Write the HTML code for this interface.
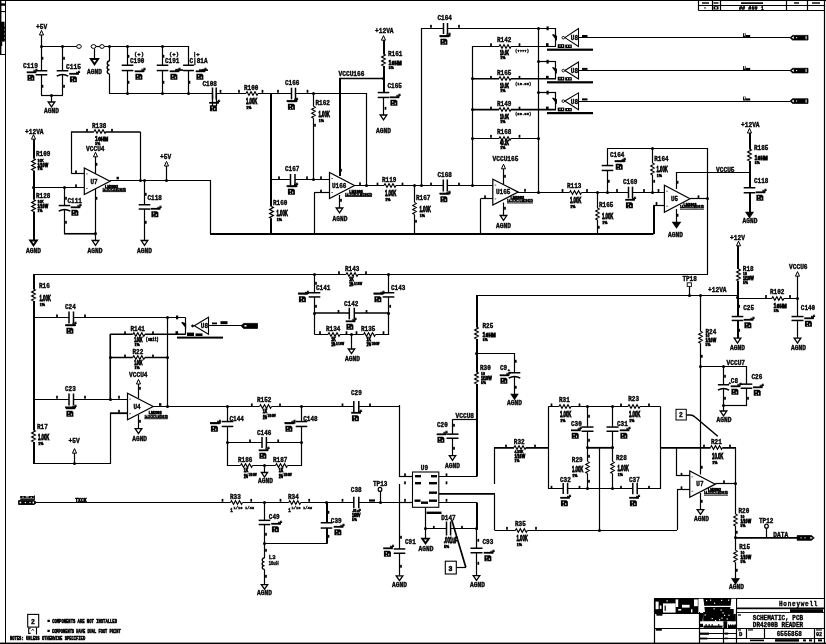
<!DOCTYPE html>
<html><head><meta charset="utf-8"><title>Schematic</title>
<style>html,body{margin:0;padding:0;background:#fff;}body{width:826px;height:644px;overflow:hidden;font-family:"Liberation Sans",sans-serif;}svg{display:block;}</style></head>
<body>
<svg width="826" height="644" viewBox="0 0 826 644" stroke="#000" fill="none" stroke-linecap="butt" stroke-linejoin="miter">
<rect x="0" y="0" width="826" height="644" fill="#fff" stroke="none"/>
<g id="wires"><rect x="0" y="0" width="826" height="1" fill="#000" stroke="none" stroke-width="1"/>
<path d="M5.5 0V643" stroke-width="1"/>
<path d="M824.5 0V643" stroke-width="1.2"/>
<rect x="0" y="642.6" width="826" height="1.4" fill="#000" stroke="none" stroke-width="1"/>
<path d="M0 54.5H5" stroke-width="1"/>
<path d="M698.5 5.5H824" stroke-width="1"/>
<path d="M698.5 10.5H824" stroke-width="1"/>
<path d="M698.5 0V10.5" stroke-width="1.2"/>
<path d="M712.5 0V10.5" stroke-width="1.2"/>
<path d="M720.5 0V10.5" stroke-width="1.2"/>
<path d="M786.5 0V10.5" stroke-width="1.2"/>
<path d="M807.5 0V10.5" stroke-width="1.2"/>
<path d="M41.5 35V46" stroke-width="1.2"/>
<path d="M41 46.5H77" stroke-width="1.2"/>
<path d="M41.5 46V95" stroke-width="1.2"/>
<path d="M62.5 46V95" stroke-width="1.2"/>
<path d="M41 95.5H63" stroke-width="1.2"/>
<path d="M51.5 95V102" stroke-width="1.2"/>
<path d="M96 46.5H100" stroke-width="1.2"/>
<path d="M94.5 48.5V59" stroke-width="1.2"/>
<path d="M104 46.5H188.5" stroke-width="1.2"/>
<path d="M109.5 46V93" stroke-width="1.2"/>
<path d="M109 93.5H366.5" stroke-width="1.2"/>
<path d="M127.5 46V93" stroke-width="1.2"/>
<path d="M162.5 46V93" stroke-width="1.2"/>
<path d="M188.5 46V93" stroke-width="1.2"/>
<path d="M271 93V234" stroke-width="2"/>
<path d="M313.5 93V179.5" stroke-width="1.2"/>
<path d="M340 78V176" stroke-width="2"/>
<path d="M339 78.5H384" stroke-width="1.6"/>
<path d="M366.5 93V185.5" stroke-width="1.2"/>
<path d="M384 40V78" stroke-width="2"/>
<path d="M384 78V93" stroke-width="2"/>
<path d="M383.5 93V115" stroke-width="1.2"/>
<path d="M421.5 28V185.5" stroke-width="1.2"/>
<path d="M421.75 28.5H556" stroke-width="1.2"/>
<path d="M472.5 46V185.5" stroke-width="1.2"/>
<path d="M538.5 28V192" stroke-width="1.2"/>
<path d="M472.5 46.5H556" stroke-width="1"/>
<path d="M555.5 28.2V46.2" stroke-width="1.2"/>
<path d="M578.5 37.5H790" stroke-width="1.2"/>
<path d="M472.5 78.8H556" stroke-width="1.6"/>
<path d="M538.25 61.5H556" stroke-width="1.2"/>
<path d="M555.5 61.6V78.8" stroke-width="1.2"/>
<path d="M578.5 70.5H790" stroke-width="1.2"/>
<path d="M472.5 109.6H556" stroke-width="1.6"/>
<path d="M538.25 92.5H556" stroke-width="1.2"/>
<path d="M555.5 92.5V109.6" stroke-width="1.2"/>
<path d="M578.5 101.5H790" stroke-width="1.2"/>
<path d="M472.5 138.5H538.25" stroke-width="1.2"/>
<path d="M750 133V212.5" stroke-width="2"/>
<path d="M676 172.5H749.5" stroke-width="1.2"/>
<path d="M34 139V240" stroke-width="2"/>
<path d="M34 187.5H84" stroke-width="1.2"/>
<path d="M71 132H140.5" stroke-width="1.6"/>
<path d="M71.5 132V173.5" stroke-width="1.2"/>
<path d="M71.25 173.5H84" stroke-width="1.2"/>
<path d="M140.5 132V181" stroke-width="1.2"/>
<path d="M95.5 156.8V174" stroke-width="1.2"/>
<path d="M110 180.5H211" stroke-width="1.2"/>
<path d="M95.5 189V240" stroke-width="1.2"/>
<path d="M64.5 187V234" stroke-width="1.2"/>
<path d="M64 233.75H95" stroke-width="1.6"/>
<path d="M144.5 180.75V240" stroke-width="1.2"/>
<path d="M166.5 166V181" stroke-width="1.2"/>
<path d="M210.5 180.75V234" stroke-width="1.2"/>
<path d="M210 234H653.5" stroke-width="2"/>
<path d="M271 179.5H329.5" stroke-width="1.2"/>
<path d="M354.5 185.5H492.8" stroke-width="1.2"/>
<path d="M314 192.5H329.5" stroke-width="1.2"/>
<path d="M314.5 192.5V234" stroke-width="1.2"/>
<path d="M339.5 195V208" stroke-width="1.2"/>
<path d="M414.5 185.5V234" stroke-width="1.2"/>
<path d="M503.5 168.8V184" stroke-width="1.2"/>
<path d="M517.5 192.5H664.5" stroke-width="1.2"/>
<path d="M480.5 198.5H492.8" stroke-width="1.2"/>
<path d="M480.5 198.75V234" stroke-width="1.2"/>
<path d="M503.5 202.5V215.5" stroke-width="1.2"/>
<path d="M597.5 192V234" stroke-width="1.2"/>
<path d="M607.5 148.4V192" stroke-width="1.2"/>
<path d="M607.2 148.5H708" stroke-width="1.2"/>
<path d="M652.5 148.4V192" stroke-width="1.2"/>
<path d="M690 198.5H708" stroke-width="1.2"/>
<path d="M707.5 148.4V274.5" stroke-width="1.2"/>
<path d="M653 205.5H664.4" stroke-width="1.2"/>
<path d="M654 205V234" stroke-width="2"/>
<path d="M676.5 172V189" stroke-width="1.2"/>
<path d="M676.5 209V222.5" stroke-width="1.2"/>
<path d="M34 274.5H708" stroke-width="1.2"/>
<path d="M34 274V464" stroke-width="2"/>
<path d="M34 317.5H185.5" stroke-width="1.2"/>
<path d="M167.5 317.5V406.5" stroke-width="1.2"/>
<path d="M185.5 317.5V334.5" stroke-width="1.2"/>
<path d="M110 334.25H185.5" stroke-width="1.6"/>
<path d="M208.5 325.5H242" stroke-width="1.2"/>
<path d="M110.25 334V399" stroke-width="1.6"/>
<path d="M110 357.5H167.5" stroke-width="1.6"/>
<path d="M138.5 384V398" stroke-width="1.2"/>
<path d="M34 399.5H127.5" stroke-width="1.2"/>
<path d="M153 406.5H227.5" stroke-width="1.2"/>
<path d="M110 413.2H127.5" stroke-width="1.8"/>
<path d="M110.5 413V464" stroke-width="1.2"/>
<path d="M138.5 415V428.7" stroke-width="1.2"/>
<path d="M34 463.5H111" stroke-width="1.2"/>
<path d="M74.5 453V463.5" stroke-width="1.2"/>
<path d="M314.5 274.25V334.5" stroke-width="1.2"/>
<path d="M388.5 274.25V334.5" stroke-width="1.2"/>
<path d="M314 313H389.5" stroke-width="1.6"/>
<path d="M314.5 334.5H389.25" stroke-width="1.2"/>
<path d="M351.5 334.25V349" stroke-width="1.2"/>
<path d="M227 406.5H400" stroke-width="1.2"/>
<path d="M227.5 406.5V466" stroke-width="1.2"/>
<path d="M301.5 406.5V466" stroke-width="1.2"/>
<path d="M227.5 442.5H301.25" stroke-width="1.2"/>
<path d="M227.5 465.5H301.75" stroke-width="1.2"/>
<path d="M264.5 465.75V472.5" stroke-width="1.2"/>
<path d="M399.5 405V476.5" stroke-width="1.2"/>
<path d="M36 502.5H412.5" stroke-width="1.2"/>
<path d="M264.5 502.4V584.5" stroke-width="1.2"/>
<path d="M264.5 543.5H327.5" stroke-width="1.2"/>
<path d="M327 502.4V543.5" stroke-width="2"/>
<path d="M380.5 491V502" stroke-width="1.2"/>
<path d="M399 476.5H412.5" stroke-width="1.2"/>
<path d="M399 502.5H412.5" stroke-width="1.2"/>
<path d="M438.8 476.5H477" stroke-width="1.2"/>
<path d="M477 295.5V476.5" stroke-width="2"/>
<path d="M476 295.5H738" stroke-width="1.2"/>
<path d="M438.8 493.9H495" stroke-width="1.6"/>
<path d="M438.8 502.5H477" stroke-width="1.2"/>
<path d="M477 502.4V529.5" stroke-width="2"/>
<path d="M476.5 529V575.5" stroke-width="1.2"/>
<path d="M425.5 507.3V538.6" stroke-width="1.2"/>
<path d="M425 528.5H476.75" stroke-width="1.2"/>
<path d="M451.6 519.5L465.8 567.3" stroke-width="1.7"/>
<path d="M456.3 567.5H466" stroke-width="1.2"/>
<path d="M399.5 484V575.6" stroke-width="1.2"/>
<path d="M477 353.5H514.75" stroke-width="1.2"/>
<path d="M514.5 353V394" stroke-width="1.2"/>
<path d="M452.5 419.5H477" stroke-width="1.2"/>
<path d="M452.5 419.25V455.5" stroke-width="1.2"/>
<path d="M494.5 447.5V484" stroke-width="1.2"/>
<path d="M494.5 494V530" stroke-width="1.2"/>
<path d="M494 447.8H548.5" stroke-width="1.8"/>
<path d="M494.5 530.5H677" stroke-width="1.2"/>
<path d="M548.5 406.5V489" stroke-width="1.2"/>
<path d="M548.25 406.5H660.5" stroke-width="1.2"/>
<path d="M548.25 488.5H660.5" stroke-width="1.2"/>
<path d="M587.5 406.5V488.75" stroke-width="1.2"/>
<path d="M587 447.8H613.5" stroke-width="1.8"/>
<path d="M660 447.8H736" stroke-width="1.8"/>
<path d="M599.5 447.8V530.5" stroke-width="1.2"/>
<path d="M612.5 406.5V488.75" stroke-width="1.2"/>
<path d="M660.5 406.5V489" stroke-width="1.2"/>
<path d="M676.5 447.5V476" stroke-width="1.2"/>
<path d="M676.5 475.5H689.75" stroke-width="1.2"/>
<path d="M715.3 483.5H735.5" stroke-width="1.2"/>
<path d="M735.5 447.5V578.6" stroke-width="1.2"/>
<path d="M677 489.5H689.75" stroke-width="1.2"/>
<path d="M677.5 489.25V530" stroke-width="1.2"/>
<path d="M700.5 295.5V474.5" stroke-width="1.2"/>
<path d="M700.5 493V509.5" stroke-width="1.2"/>
<path d="M735 537.9H798" stroke-width="1.8"/>
<path d="M766.5 528.2V537.9" stroke-width="1.2"/>
<path d="M738 245.8V298" stroke-width="2"/>
<path d="M738 298.5H798" stroke-width="1.2"/>
<path d="M738 298V338" stroke-width="2"/>
<path d="M797.5 276V338" stroke-width="1.2"/>
<path d="M689.5 286.4V295.5" stroke-width="1.2"/>
<path d="M700.25 366.5H747" stroke-width="1.2"/>
<path d="M723.5 366.25V411" stroke-width="1.2"/>
<path d="M746.5 366.25V405.8" stroke-width="1.2"/>
<path d="M723.5 405.5H747" stroke-width="1.2"/>
<path d="M654.7 598.5H824.5" stroke-width="1.2"/>
<path d="M654.5 598.2V643" stroke-width="1.2"/>
<path d="M699.5 598.2V643" stroke-width="1.2"/>
<path d="M736.5 598.2V643" stroke-width="1.2"/>
<path d="M654.7 628.5H824.5" stroke-width="1.2"/>
<path d="M654.7 613.5H699" stroke-width="1.2"/>
<path d="M699 633.5H736.4" stroke-width="1.2"/>
<path d="M699 638.5H736.4" stroke-width="1.2"/>
<path d="M723.5 628.3V643" stroke-width="1.2"/>
<path d="M736.4 612.5H824.5" stroke-width="0.9"/>
<path d="M746.5 628.3V638.5" stroke-width="1.2"/>
<path d="M764.5 628.3V638.5" stroke-width="1.2"/>
<path d="M814.5 628.3V643" stroke-width="1.2"/>
<path d="M736.4 638.5H824.5" stroke-width="1.2"/></g>
<g id="comps"><rect x="0" y="1" width="1.4" height="54" fill="#000" stroke="none" stroke-width="1"/>
<rect x="0" y="21.7" width="4.6" height="20" fill="#000" stroke="none" stroke-width="1"/>
<rect x="0" y="42" width="2.2" height="4" fill="#000" stroke="none" stroke-width="1"/>
<rect x="1" y="3.3" width="4" height="2.5" fill="#000" stroke="none" stroke-width="1"/>
<rect x="1" y="11" width="4" height="1.1" fill="#000" stroke="none" stroke-width="1"/>
<rect x="4" y="27" width="1" height="1.6" fill="#000" stroke="none" stroke-width="1"/>
<rect x="4" y="31" width="1" height="1.6" fill="#000" stroke="none" stroke-width="1"/>
<rect x="4" y="35" width="1" height="1.6" fill="#000" stroke="none" stroke-width="1"/>
<rect x="4" y="39" width="1" height="1.6" fill="#000" stroke="none" stroke-width="1"/>
<rect x="702" y="2.3" width="7" height="1.4" fill="#000" stroke="none" stroke-width="1"/>
<rect x="713.5" y="2.3" width="5" height="1.4" fill="#000" stroke="none" stroke-width="1"/>
<rect x="741" y="2.3" width="22" height="1.6" fill="#000" stroke="none" stroke-width="1"/>
<rect x="794" y="2.3" width="5" height="1.4" fill="#000" stroke="none" stroke-width="1"/>
<rect x="812" y="2.3" width="8" height="1.4" fill="#000" stroke="none" stroke-width="1"/>
<rect x="704" y="7.5" width="2" height="0.9" fill="#000" stroke="none" stroke-width="1"/>
<rect x="713.5" y="6.3" width="5" height="3.2" fill="#000" stroke="none" stroke-width="1"/>
<rect x="715" y="7.2" width="2" height="1.4" fill="#fff" stroke="none" stroke-width="1"/>
<path d="M39.45 35L43.55 35L41.5 30.4Z" stroke-width="1" fill="#fff"/>
<circle cx="41.5" cy="46.5" r="1.5" fill="#000" stroke="none"/>
<circle cx="62.5" cy="46.5" r="1.5" fill="#000" stroke="none"/>
<ellipse cx="79" cy="46.5" rx="2.3" ry="1.9" fill="#fff" stroke-width="1"/>
<circle cx="51.5" cy="95.5" r="1.5" fill="#000" stroke="none"/>
<path d="M48.2 102L54.8 102L51.5 106.8Z" stroke-width="1.3" fill="#fff"/>
<rect x="40" y="70.75" width="3" height="4" fill="#fff" stroke="none" stroke-width="1"/>
<path d="M35.7 70.75H47.3" stroke-width="1.5"/>
<path d="M35.7 74.75H47.3" stroke-width="1.5"/>
<rect x="61" y="70.75" width="3" height="3.5" fill="#fff" stroke="none" stroke-width="1"/>
<path d="M56.7 70.75H68.3" stroke-width="1.5"/>
<path d="M56.7 76.1Q62.5 72.7 68.3 76.1" stroke-width="1.5" fill="none"/>
<rect x="41.65" y="56.85" width="1.7" height="2.9" fill="#000" stroke="none" stroke-width="1"/>
<rect x="41.65" y="84.85" width="1.7" height="2.9" fill="#000" stroke="none" stroke-width="1"/>
<rect x="63.15" y="56.85" width="1.7" height="2.9" fill="#000" stroke="none" stroke-width="1"/>
<rect x="63.15" y="84.85" width="1.7" height="2.9" fill="#000" stroke="none" stroke-width="1"/>
<ellipse cx="93.5" cy="46.5" rx="2.4" ry="1.9" fill="#fff" stroke-width="1"/>
<ellipse cx="102" cy="46.5" rx="2.2" ry="1.9" fill="#fff" stroke-width="1"/>
<path d="M90.9 59L98.1 59L94.5 64.3Z" stroke-width="1.9" fill="#fff"/>
<rect x="108" y="61" width="3" height="13" fill="#fff" stroke="none" stroke-width="1"/>
<path d="M109.5 61A2.4 2.17 0 0 0 109.5 65.33A2.4 2.17 0 0 0 109.5 69.67A2.4 2.17 0 0 0 109.5 74" stroke-width="1.35" fill="none"/>
<circle cx="109.5" cy="46.5" r="1.5" fill="#000" stroke="none"/>
<circle cx="127.5" cy="46.5" r="1.5" fill="#000" stroke="none"/>
<circle cx="127.5" cy="93.5" r="1.5" fill="#000" stroke="none"/>
<rect x="126" y="65.25" width="3" height="5.3" fill="#fff" stroke="none" stroke-width="1"/>
<path d="M121.7 65.25H133.3" stroke-width="1.5"/>
<path d="M121.7 70.55H133.3" stroke-width="1.5"/>
<rect x="127.65" y="54.85" width="1.7" height="2.9" fill="#000" stroke="none" stroke-width="1"/>
<rect x="127.65" y="80.85" width="1.7" height="2.9" fill="#000" stroke="none" stroke-width="1"/>
<circle cx="162.5" cy="46.5" r="1.5" fill="#000" stroke="none"/>
<circle cx="162.5" cy="93.5" r="1.5" fill="#000" stroke="none"/>
<rect x="161" y="65.25" width="3" height="5.3" fill="#fff" stroke="none" stroke-width="1"/>
<path d="M156.7 65.25H168.3" stroke-width="1.5"/>
<path d="M156.7 70.55H168.3" stroke-width="1.5"/>
<rect x="162.65" y="54.85" width="1.7" height="2.9" fill="#000" stroke="none" stroke-width="1"/>
<rect x="162.65" y="80.85" width="1.7" height="2.9" fill="#000" stroke="none" stroke-width="1"/>
<circle cx="188.5" cy="93.5" r="1.5" fill="#000" stroke="none"/>
<rect x="187" y="65.25" width="3" height="5.3" fill="#fff" stroke="none" stroke-width="1"/>
<path d="M183.1 65.25H193.9" stroke-width="1.5"/>
<path d="M183.1 70.55H193.9" stroke-width="1.5"/>
<rect x="188.65" y="80.85" width="1.7" height="2.9" fill="#000" stroke="none" stroke-width="1"/>
<rect x="175" y="69.3" width="8" height="1.6" fill="#000" stroke="none" stroke-width="1"/>
<rect x="199" y="69.3" width="9" height="1.6" fill="#000" stroke="none" stroke-width="1"/>
<rect x="212.5" y="92" width="3.7" height="3" fill="#fff" stroke="none" stroke-width="1"/>
<path d="M212.5 87.5V99.5" stroke-width="1.5"/>
<path d="M216.2 87.5V99.5" stroke-width="1.5"/>
<path d="M212.5 93V106" stroke-width="1.2"/>
<path d="M216.5 93V106" stroke-width="1.2"/>
<rect x="219.65" y="89.85" width="1.7" height="2.9" fill="#000" stroke="none" stroke-width="1"/>
<rect x="238.15" y="89.85" width="1.7" height="2.9" fill="#000" stroke="none" stroke-width="1"/>
<rect x="246" y="92" width="12" height="3" fill="#fff" stroke="none" stroke-width="1"/>
<path d="M246 93.5L247 91.75L249 95.25L251 91.75L253 95.25L255 91.75L257 95.25L258 93.5" stroke-width="1.15" fill="none"/>
<rect x="261.65" y="89.85" width="1.7" height="2.9" fill="#000" stroke="none" stroke-width="1"/>
<rect x="277.15" y="89.85" width="1.7" height="2.9" fill="#000" stroke="none" stroke-width="1"/>
<rect x="291.5" y="92" width="4" height="3" fill="#fff" stroke="none" stroke-width="1"/>
<path d="M291.5 87.7V99.3" stroke-width="1.5"/>
<path d="M295.5 87.7V99.3" stroke-width="1.5"/>
<rect x="286.5" y="100.2" width="11" height="1.5" fill="#000" stroke="none" stroke-width="1"/>
<rect x="306.65" y="89.85" width="1.7" height="2.9" fill="#000" stroke="none" stroke-width="1"/>
<circle cx="313.5" cy="93.5" r="1.5" fill="#000" stroke="none"/>
<rect x="312" y="106.3" width="3" height="12" fill="#fff" stroke="none" stroke-width="1"/>
<path d="M313.5 106.3L315.25 107.3L311.75 109.3L315.25 111.3L311.75 113.3L315.25 115.3L311.75 117.3L313.5 118.3" stroke-width="1.15" fill="none"/>
<rect x="314.15" y="123.85" width="1.7" height="2.9" fill="#000" stroke="none" stroke-width="1"/>
<path d="M381.45 40.2L385.55 40.2L383.5 35.6Z" stroke-width="1" fill="#fff"/>
<rect x="382" y="54" width="3" height="12" fill="#fff" stroke="none" stroke-width="1"/>
<path d="M383.5 54L385.25 55L381.75 57L385.25 59L381.75 61L385.25 63L381.75 65L383.5 66" stroke-width="1.3" fill="none"/>
<circle cx="383.5" cy="78.5" r="1.5" fill="#000" stroke="none"/>
<rect x="382" y="92.55" width="3" height="4.9" fill="#fff" stroke="none" stroke-width="1"/>
<path d="M377.7 92.55H389.3" stroke-width="1.5"/>
<path d="M377.7 97.45H389.3" stroke-width="1.5"/>
<path d="M380.2 115L386.8 115L383.5 119.8Z" stroke-width="1.3" fill="#fff"/>
<rect x="384.65" y="106.85" width="1.7" height="2.9" fill="#000" stroke="none" stroke-width="1"/>
<rect x="443.5" y="27" width="4" height="3" fill="#fff" stroke="none" stroke-width="1"/>
<path d="M443.5 23V34" stroke-width="1.5"/>
<path d="M447.5 23V34" stroke-width="1.5"/>
<rect x="439.5" y="35.2" width="11" height="1.4" fill="#000" stroke="none" stroke-width="1"/>
<rect x="430.15" y="24.85" width="1.7" height="2.9" fill="#000" stroke="none" stroke-width="1"/>
<rect x="458.15" y="24.85" width="1.7" height="2.9" fill="#000" stroke="none" stroke-width="1"/>
<circle cx="538.5" cy="28.5" r="1.5" fill="#000" stroke="none"/>
<rect x="499" y="45" width="12" height="3" fill="#fff" stroke="none" stroke-width="1"/>
<path d="M499 46.5L500 44.75L502 48.25L504 44.75L506 48.25L508 44.75L510 48.25L511 46.5" stroke-width="1.15" fill="none"/>
<rect x="490.15" y="43.25" width="1.7" height="2.9" fill="#000" stroke="none" stroke-width="1"/>
<rect x="518.65" y="43.25" width="1.7" height="2.9" fill="#000" stroke="none" stroke-width="1"/>
<path d="M552.6 34.6L556.4 39.4L556.4 36.2Z" stroke-width="1.1" fill="#000"/>
<rect x="546.5" y="26.4" width="2.2" height="3.8" fill="#000" stroke="none" stroke-width="1"/>
<rect x="546" y="43.2" width="2.6" height="3.2" fill="#000" stroke="none" stroke-width="1"/>
<path d="M564.8 37.6L578.5 28.6L578.5 46.4Z" stroke-width="1.1" fill="#fff"/>
<circle cx="563.3" cy="37.7" r="1.3" fill="#fff" stroke-width="0.9"/>
<rect x="582" y="35" width="5.5" height="2" fill="#000" stroke="none" stroke-width="1"/>
<rect x="547" y="48.6" width="46" height="2.2" fill="#000" stroke="none" stroke-width="1"/>
<rect x="557.7" y="44.2" width="6.6" height="3.8" fill="#000" stroke="none" stroke-width="1"/>
<rect x="559.5" y="45.2" width="1" height="1.4" fill="#fff" stroke="none" stroke-width="1"/>
<rect x="562" y="45.2" width="1" height="1.4" fill="#fff" stroke="none" stroke-width="1"/>
<rect x="565.2" y="44.6" width="6.6" height="3.4" fill="#000" stroke="none" stroke-width="1"/>
<rect x="567" y="45.5" width="1" height="1.3" fill="#fff" stroke="none" stroke-width="1"/>
<rect x="569.5" y="45.5" width="1" height="1.3" fill="#fff" stroke="none" stroke-width="1"/>
<rect x="743" y="33.2" width="2.6" height="3.9" fill="#000" stroke="none" stroke-width="1"/>
<rect x="743.9" y="33.2" width="0.9" height="2.6" fill="#fff" stroke="none" stroke-width="1"/>
<rect x="745.6" y="35" width="4.6" height="2.1" fill="#000" stroke="none" stroke-width="1"/>
<path d="M790 37.7L792.5 35.4L808 35.4L808 40L792.5 40Z" stroke-width="0.8" fill="#000"/>
<path d="M791.6 37.7L793.8 36.3L793.8 39.1Z" stroke-width="0" fill="#fff"/>
<rect x="796" y="37.1" width="1.1" height="1.1" fill="#fff" stroke="none" stroke-width="1"/>
<rect x="805.6" y="36.1" width="1" height="3.2" fill="#fff" stroke="none" stroke-width="1"/>
<circle cx="472.5" cy="78.5" r="1.5" fill="#000" stroke="none"/>
<rect x="499" y="77" width="12" height="3" fill="#fff" stroke="none" stroke-width="1"/>
<path d="M499 78.5L500 76.75L502 80.25L504 76.75L506 80.25L508 76.75L510 80.25L511 78.5" stroke-width="1.15" fill="none"/>
<rect x="490.15" y="75.85" width="1.7" height="2.9" fill="#000" stroke="none" stroke-width="1"/>
<rect x="518.65" y="75.85" width="1.7" height="2.9" fill="#000" stroke="none" stroke-width="1"/>
<circle cx="538.5" cy="61.5" r="1.5" fill="#000" stroke="none"/>
<path d="M552.6 67.5L556.4 72.3L556.4 69.1Z" stroke-width="1.1" fill="#000"/>
<rect x="546.5" y="59.8" width="2.2" height="3.8" fill="#000" stroke="none" stroke-width="1"/>
<rect x="546" y="75.8" width="2.6" height="3.2" fill="#000" stroke="none" stroke-width="1"/>
<path d="M564.8 70.5L578.5 62L578.5 79Z" stroke-width="1.1" fill="#fff"/>
<circle cx="563.3" cy="70.6" r="1.3" fill="#fff" stroke-width="0.9"/>
<rect x="582" y="67.9" width="5.5" height="2" fill="#000" stroke="none" stroke-width="1"/>
<rect x="547" y="81.2" width="46" height="2.2" fill="#000" stroke="none" stroke-width="1"/>
<rect x="557.7" y="76.8" width="6.6" height="3.8" fill="#000" stroke="none" stroke-width="1"/>
<rect x="559.5" y="77.8" width="1" height="1.4" fill="#fff" stroke="none" stroke-width="1"/>
<rect x="562" y="77.8" width="1" height="1.4" fill="#fff" stroke="none" stroke-width="1"/>
<rect x="565.2" y="77.2" width="6.6" height="3.4" fill="#000" stroke="none" stroke-width="1"/>
<rect x="567" y="78.1" width="1" height="1.3" fill="#fff" stroke="none" stroke-width="1"/>
<rect x="569.5" y="78.1" width="1" height="1.3" fill="#fff" stroke="none" stroke-width="1"/>
<rect x="743" y="66.1" width="2.6" height="3.9" fill="#000" stroke="none" stroke-width="1"/>
<rect x="743.9" y="66.1" width="0.9" height="2.6" fill="#fff" stroke="none" stroke-width="1"/>
<rect x="745.6" y="67.9" width="4.6" height="2.1" fill="#000" stroke="none" stroke-width="1"/>
<path d="M790 70.6L792.5 68.3L808 68.3L808 72.9L792.5 72.9Z" stroke-width="0.8" fill="#000"/>
<path d="M791.6 70.6L793.8 69.2L793.8 72Z" stroke-width="0" fill="#fff"/>
<rect x="796" y="70" width="1.1" height="1.1" fill="#fff" stroke="none" stroke-width="1"/>
<rect x="805.6" y="69" width="1" height="3.2" fill="#fff" stroke="none" stroke-width="1"/>
<circle cx="472.5" cy="109.5" r="1.5" fill="#000" stroke="none"/>
<rect x="499" y="108" width="12" height="3" fill="#fff" stroke="none" stroke-width="1"/>
<path d="M499 109.5L500 107.75L502 111.25L504 107.75L506 111.25L508 107.75L510 111.25L511 109.5" stroke-width="1.15" fill="none"/>
<rect x="490.15" y="106.65" width="1.7" height="2.9" fill="#000" stroke="none" stroke-width="1"/>
<rect x="518.65" y="106.65" width="1.7" height="2.9" fill="#000" stroke="none" stroke-width="1"/>
<circle cx="538.5" cy="92.5" r="1.5" fill="#000" stroke="none"/>
<path d="M552.6 98L556.4 102.8L556.4 99.6Z" stroke-width="1.1" fill="#000"/>
<rect x="546.5" y="90.7" width="2.2" height="3.8" fill="#000" stroke="none" stroke-width="1"/>
<rect x="546" y="106.6" width="2.6" height="3.2" fill="#000" stroke="none" stroke-width="1"/>
<path d="M564.8 101L578.5 92.9L578.5 109.8Z" stroke-width="1.1" fill="#fff"/>
<circle cx="563.3" cy="101.1" r="1.3" fill="#fff" stroke-width="0.9"/>
<rect x="582" y="98.4" width="5.5" height="2" fill="#000" stroke="none" stroke-width="1"/>
<rect x="547" y="112" width="46" height="2.2" fill="#000" stroke="none" stroke-width="1"/>
<rect x="557.7" y="107.6" width="6.6" height="3.8" fill="#000" stroke="none" stroke-width="1"/>
<rect x="559.5" y="108.6" width="1" height="1.4" fill="#fff" stroke="none" stroke-width="1"/>
<rect x="562" y="108.6" width="1" height="1.4" fill="#fff" stroke="none" stroke-width="1"/>
<rect x="565.2" y="108" width="6.6" height="3.4" fill="#000" stroke="none" stroke-width="1"/>
<rect x="567" y="108.9" width="1" height="1.3" fill="#fff" stroke="none" stroke-width="1"/>
<rect x="569.5" y="108.9" width="1" height="1.3" fill="#fff" stroke="none" stroke-width="1"/>
<rect x="743" y="96.6" width="2.6" height="3.9" fill="#000" stroke="none" stroke-width="1"/>
<rect x="743.9" y="96.6" width="0.9" height="2.6" fill="#fff" stroke="none" stroke-width="1"/>
<rect x="745.6" y="98.4" width="4.6" height="2.1" fill="#000" stroke="none" stroke-width="1"/>
<path d="M790 101.1L792.5 98.8L808 98.8L808 103.4L792.5 103.4Z" stroke-width="0.8" fill="#000"/>
<path d="M791.6 101.1L793.8 99.7L793.8 102.5Z" stroke-width="0" fill="#fff"/>
<rect x="796" y="100.5" width="1.1" height="1.1" fill="#fff" stroke="none" stroke-width="1"/>
<rect x="805.6" y="99.5" width="1" height="3.2" fill="#fff" stroke="none" stroke-width="1"/>
<circle cx="472.5" cy="138.5" r="1.5" fill="#000" stroke="none"/>
<circle cx="538.5" cy="138.5" r="1.5" fill="#000" stroke="none"/>
<rect x="499" y="137" width="12" height="3" fill="#fff" stroke="none" stroke-width="1"/>
<path d="M499 138.5L500 136.75L502 140.25L504 136.75L506 140.25L508 136.75L510 140.25L511 138.5" stroke-width="1.15" fill="none"/>
<rect x="490.15" y="134.85" width="1.7" height="2.9" fill="#000" stroke="none" stroke-width="1"/>
<rect x="518.65" y="134.85" width="1.7" height="2.9" fill="#000" stroke="none" stroke-width="1"/>
<path d="M747.45 133L751.55 133L749.5 128.4Z" stroke-width="1" fill="#fff"/>
<rect x="748" y="149" width="3" height="12" fill="#fff" stroke="none" stroke-width="1"/>
<path d="M749.5 149L751.25 150L747.75 152L751.25 154L747.75 156L751.25 158L747.75 160L749.5 161" stroke-width="1.3" fill="none"/>
<rect x="748" y="187.75" width="3" height="5" fill="#fff" stroke="none" stroke-width="1"/>
<path d="M743.7 187.75H755.3" stroke-width="1.5"/>
<path d="M743.7 192.75H755.3" stroke-width="1.5"/>
<path d="M746.2 212.5L752.8 212.5L749.5 217.3Z" stroke-width="1.3" fill="#000"/>
<path d="M31.45 139.2L35.55 139.2L33.5 134.6Z" stroke-width="1" fill="#fff"/>
<rect x="32" y="158.5" width="3" height="12" fill="#fff" stroke="none" stroke-width="1"/>
<path d="M33.5 158.5L35.25 159.5L31.75 161.5L35.25 163.5L31.75 165.5L35.25 167.5L31.75 169.5L33.5 170.5" stroke-width="1.3" fill="none"/>
<rect x="32" y="199.5" width="3" height="12" fill="#fff" stroke="none" stroke-width="1"/>
<path d="M33.5 199.5L35.25 200.5L31.75 202.5L35.25 204.5L31.75 206.5L35.25 208.5L31.75 210.5L33.5 211.5" stroke-width="1.3" fill="none"/>
<circle cx="33.5" cy="187.5" r="1.5" fill="#000" stroke="none"/>
<path d="M30.2 240.5L36.8 240.5L33.5 245.3Z" stroke-width="1.9" fill="#fff"/>
<rect x="94" y="130" width="12" height="3" fill="#fff" stroke="none" stroke-width="1"/>
<path d="M94 131.5L95 129.75L97 133.25L99 129.75L101 133.25L103 129.75L105 133.25L106 131.5" stroke-width="1.15" fill="none"/>
<rect x="86.15" y="128.85" width="1.7" height="2.9" fill="#000" stroke="none" stroke-width="1"/>
<rect x="111.15" y="128.85" width="1.7" height="2.9" fill="#000" stroke="none" stroke-width="1"/>
<rect x="75.15" y="170.45" width="1.7" height="2.9" fill="#000" stroke="none" stroke-width="1"/>
<circle cx="140.5" cy="180.5" r="1.5" fill="#000" stroke="none"/>
<path d="M93.45 156.8L97.55 156.8L95.5 152.2Z" stroke-width="1" fill="#fff"/>
<path d="M84.3 168L84.3 194.5L110 181.25Z" stroke-width="1.2" fill="#fff"/>
<rect x="86.1" y="173.5" width="1.6" height="0.8" fill="#333" stroke="none" stroke-width="1"/>
<rect x="86.1" y="188" width="1.6" height="0.8" fill="#333" stroke="none" stroke-width="1"/>
<rect x="116.5" y="176.8" width="2.4" height="2.6" fill="#000" stroke="none" stroke-width="1"/>
<circle cx="95.5" cy="233.5" r="1.5" fill="#000" stroke="none"/>
<path d="M92.2 240.5L98.8 240.5L95.5 245.3Z" stroke-width="1.3" fill="#fff"/>
<rect x="95.65" y="162.85" width="1.7" height="2.9" fill="#000" stroke="none" stroke-width="1"/>
<rect x="95.65" y="196.85" width="1.7" height="2.9" fill="#000" stroke="none" stroke-width="1"/>
<circle cx="64.5" cy="187.5" r="1.5" fill="#000" stroke="none"/>
<rect x="63" y="205.55" width="3" height="3.7" fill="#fff" stroke="none" stroke-width="1"/>
<path d="M58.7 205.55H70.3" stroke-width="1.5"/>
<path d="M58.7 211.1Q64.5 207.7 70.3 211.1" stroke-width="1.5" fill="none"/>
<rect x="75.15" y="184.35" width="1.7" height="2.9" fill="#000" stroke="none" stroke-width="1"/>
<rect x="65.15" y="196.85" width="1.7" height="2.9" fill="#000" stroke="none" stroke-width="1"/>
<rect x="65.15" y="220.85" width="1.7" height="2.9" fill="#000" stroke="none" stroke-width="1"/>
<circle cx="144.5" cy="180.5" r="1.5" fill="#000" stroke="none"/>
<rect x="143" y="204.75" width="3" height="4.3" fill="#fff" stroke="none" stroke-width="1"/>
<path d="M138.7 204.75H150.3" stroke-width="1.5"/>
<path d="M138.7 209.05H150.3" stroke-width="1.5"/>
<path d="M141.2 240.5L147.8 240.5L144.5 245.3Z" stroke-width="1.3" fill="#fff"/>
<rect x="144.95" y="192.85" width="1.7" height="2.9" fill="#000" stroke="none" stroke-width="1"/>
<rect x="144.95" y="220.85" width="1.7" height="2.9" fill="#000" stroke="none" stroke-width="1"/>
<path d="M164.45 166L168.55 166L166.5 161.4Z" stroke-width="1" fill="#fff"/>
<circle cx="166.5" cy="180.5" r="1.5" fill="#000" stroke="none"/>
<rect x="270" y="206.5" width="3" height="12" fill="#fff" stroke="none" stroke-width="1"/>
<path d="M271.5 206.5L273.25 207.5L269.75 209.5L273.25 211.5L269.75 213.5L273.25 215.5L269.75 217.5L271.5 218.5" stroke-width="1.4" fill="none"/>
<rect x="290.5" y="178" width="4.5" height="3" fill="#fff" stroke="none" stroke-width="1"/>
<path d="M290.5 173.9V185.1" stroke-width="1.5"/>
<path d="M295 173.9V185.1" stroke-width="1.5"/>
<rect x="286.5" y="185.4" width="11" height="1.4" fill="#000" stroke="none" stroke-width="1"/>
<rect x="278.15" y="176.35" width="1.7" height="2.9" fill="#000" stroke="none" stroke-width="1"/>
<rect x="306.15" y="176.35" width="1.7" height="2.9" fill="#000" stroke="none" stroke-width="1"/>
<rect x="320.15" y="176.35" width="1.7" height="2.9" fill="#000" stroke="none" stroke-width="1"/>
<circle cx="313.5" cy="179.5" r="1.5" fill="#000" stroke="none"/>
<path d="M329.5 172.5L329.5 198.5L354.5 185.5Z" stroke-width="1.2" fill="#fff"/>
<rect x="331.3" y="178" width="1.6" height="0.8" fill="#333" stroke="none" stroke-width="1"/>
<rect x="331.3" y="192" width="1.6" height="0.8" fill="#333" stroke="none" stroke-width="1"/>
<circle cx="366.5" cy="185.5" r="1.5" fill="#000" stroke="none"/>
<rect x="320.15" y="189.65" width="1.7" height="2.9" fill="#000" stroke="none" stroke-width="1"/>
<path d="M336.2 208L342.8 208L339.5 212.8Z" stroke-width="1.3" fill="#fff"/>
<rect x="340.15" y="168.85" width="1.7" height="2.9" fill="#000" stroke="none" stroke-width="1"/>
<rect x="340.15" y="198.85" width="1.7" height="2.9" fill="#000" stroke="none" stroke-width="1"/>
<rect x="359.15" y="182.35" width="1.7" height="2.9" fill="#000" stroke="none" stroke-width="1"/>
<rect x="384" y="184" width="12" height="3" fill="#fff" stroke="none" stroke-width="1"/>
<path d="M384 185.5L385 183.75L387 187.25L389 183.75L391 187.25L393 183.75L395 187.25L396 185.5" stroke-width="1.15" fill="none"/>
<rect x="376.65" y="182.65" width="1.7" height="2.9" fill="#000" stroke="none" stroke-width="1"/>
<rect x="401.65" y="182.65" width="1.7" height="2.9" fill="#000" stroke="none" stroke-width="1"/>
<circle cx="414.5" cy="185.5" r="1.5" fill="#000" stroke="none"/>
<rect x="413" y="202.5" width="3" height="12" fill="#fff" stroke="none" stroke-width="1"/>
<path d="M414.5 202.5L416.25 203.5L412.75 205.5L416.25 207.5L412.75 209.5L416.25 211.5L412.75 213.5L414.5 214.5" stroke-width="1.15" fill="none"/>
<rect x="415.15" y="219.85" width="1.7" height="2.9" fill="#000" stroke="none" stroke-width="1"/>
<circle cx="421.5" cy="185.5" r="1.5" fill="#000" stroke="none"/>
<rect x="443.3" y="184" width="4" height="3" fill="#fff" stroke="none" stroke-width="1"/>
<path d="M443.3 179.5V191.5" stroke-width="1.5"/>
<path d="M447.3 179.5V191.5" stroke-width="1.5"/>
<rect x="439.5" y="192.8" width="11" height="1.4" fill="#000" stroke="none" stroke-width="1"/>
<rect x="430.15" y="182.65" width="1.7" height="2.9" fill="#000" stroke="none" stroke-width="1"/>
<rect x="458.15" y="182.65" width="1.7" height="2.9" fill="#000" stroke="none" stroke-width="1"/>
<circle cx="472.5" cy="185.5" r="1.5" fill="#000" stroke="none"/>
<path d="M501.45 168.8L505.55 168.8L503.5 164.2Z" stroke-width="1" fill="#fff"/>
<path d="M492.8 179.2L492.8 205L518.2 192.1Z" stroke-width="1.2" fill="#fff"/>
<rect x="494.6" y="184.7" width="1.6" height="0.8" fill="#333" stroke="none" stroke-width="1"/>
<rect x="494.6" y="198.5" width="1.6" height="0.8" fill="#333" stroke="none" stroke-width="1"/>
<circle cx="538.5" cy="192.5" r="1.5" fill="#000" stroke="none"/>
<rect x="484.15" y="195.35" width="1.7" height="2.9" fill="#000" stroke="none" stroke-width="1"/>
<rect x="524.15" y="188.85" width="1.7" height="2.9" fill="#000" stroke="none" stroke-width="1"/>
<path d="M500.2 215.5L506.8 215.5L503.5 220.3Z" stroke-width="1.3" fill="#fff"/>
<rect x="504.15" y="174.85" width="1.7" height="2.9" fill="#000" stroke="none" stroke-width="1"/>
<rect x="504.15" y="206.85" width="1.7" height="2.9" fill="#000" stroke="none" stroke-width="1"/>
<rect x="569.5" y="191" width="12" height="3" fill="#fff" stroke="none" stroke-width="1"/>
<path d="M569.5 192.5L570.5 190.75L572.5 194.25L574.5 190.75L576.5 194.25L578.5 190.75L580.5 194.25L581.5 192.5" stroke-width="1.15" fill="none"/>
<rect x="561.65" y="189.05" width="1.7" height="2.9" fill="#000" stroke="none" stroke-width="1"/>
<rect x="586.15" y="189.05" width="1.7" height="2.9" fill="#000" stroke="none" stroke-width="1"/>
<circle cx="597.5" cy="192.5" r="1.5" fill="#000" stroke="none"/>
<rect x="596" y="208" width="3" height="12" fill="#fff" stroke="none" stroke-width="1"/>
<path d="M597.5 208L599.25 209L595.75 211L599.25 213L595.75 215L599.25 217L595.75 219L597.5 220" stroke-width="1.15" fill="none"/>
<rect x="597.95" y="225.85" width="1.7" height="2.9" fill="#000" stroke="none" stroke-width="1"/>
<circle cx="607.5" cy="192.5" r="1.5" fill="#000" stroke="none"/>
<rect x="606" y="165.55" width="3" height="4.9" fill="#fff" stroke="none" stroke-width="1"/>
<path d="M601.7 165.55H613.3" stroke-width="1.5"/>
<path d="M601.7 170.45H613.3" stroke-width="1.5"/>
<rect x="614.5" y="160.4" width="11" height="1.4" fill="#000" stroke="none" stroke-width="1"/>
<rect x="607.95" y="179.85" width="1.7" height="2.9" fill="#000" stroke="none" stroke-width="1"/>
<rect x="628.5" y="191" width="4" height="3" fill="#fff" stroke="none" stroke-width="1"/>
<path d="M628.5 186.7V198.3" stroke-width="1.5"/>
<path d="M632.5 186.7V198.3" stroke-width="1.5"/>
<rect x="616.15" y="189.05" width="1.7" height="2.9" fill="#000" stroke="none" stroke-width="1"/>
<rect x="643.15" y="189.05" width="1.7" height="2.9" fill="#000" stroke="none" stroke-width="1"/>
<circle cx="652.5" cy="148.5" r="1.5" fill="#000" stroke="none"/>
<circle cx="652.5" cy="192.5" r="1.5" fill="#000" stroke="none"/>
<rect x="651" y="163" width="3" height="12" fill="#fff" stroke="none" stroke-width="1"/>
<path d="M652.5 163L654.25 164L650.75 166L654.25 168L650.75 170L654.25 172L650.75 174L652.5 175" stroke-width="1.15" fill="none"/>
<rect x="653.35" y="179.85" width="1.7" height="2.9" fill="#000" stroke="none" stroke-width="1"/>
<path d="M664.4 185.3L664.4 212.3L690 198.8Z" stroke-width="1.2" fill="#fff"/>
<rect x="666.2" y="190.8" width="1.6" height="0.8" fill="#333" stroke="none" stroke-width="1"/>
<rect x="666.2" y="205.8" width="1.6" height="0.8" fill="#333" stroke="none" stroke-width="1"/>
<circle cx="707.5" cy="198.5" r="1.5" fill="#000" stroke="none"/>
<rect x="655.65" y="202.05" width="1.7" height="2.9" fill="#000" stroke="none" stroke-width="1"/>
<rect x="657.65" y="189.05" width="1.7" height="2.9" fill="#000" stroke="none" stroke-width="1"/>
<rect x="697.65" y="195.35" width="1.7" height="2.9" fill="#000" stroke="none" stroke-width="1"/>
<path d="M672.9 222.5L680.1 222.5L676.5 227.7Z" stroke-width="1.3" fill="#000"/>
<rect x="676.75" y="180.85" width="1.7" height="2.9" fill="#000" stroke="none" stroke-width="1"/>
<rect x="676.75" y="213.85" width="1.7" height="2.9" fill="#000" stroke="none" stroke-width="1"/>
<rect x="32" y="289" width="3" height="12" fill="#fff" stroke="none" stroke-width="1"/>
<path d="M33.5 289L35.25 290L31.75 292L35.25 294L31.75 296L35.25 298L31.75 300L33.5 301" stroke-width="1.3" fill="none"/>
<rect x="69" y="316" width="4.5" height="3" fill="#fff" stroke="none" stroke-width="1"/>
<path d="M69 311.5V323.5" stroke-width="1.5"/>
<path d="M73.5 311.5V323.5" stroke-width="1.5"/>
<rect x="65" y="324.5" width="11" height="1.4" fill="#000" stroke="none" stroke-width="1"/>
<rect x="56.15" y="314.45" width="1.7" height="2.9" fill="#000" stroke="none" stroke-width="1"/>
<rect x="84.15" y="314.45" width="1.7" height="2.9" fill="#000" stroke="none" stroke-width="1"/>
<circle cx="167.5" cy="317.5" r="1.5" fill="#000" stroke="none"/>
<path d="M181.8 322.3L185.6 327.1L185.6 323.9Z" stroke-width="1.1" fill="#000"/>
<rect x="176" y="315.5" width="2.2" height="3.8" fill="#000" stroke="none" stroke-width="1"/>
<rect x="175.5" y="331.2" width="2.6" height="3.2" fill="#000" stroke="none" stroke-width="1"/>
<path d="M194.3 325.8L208.5 317.3L208.5 334.3Z" stroke-width="1.1" fill="#fff"/>
<circle cx="192.6" cy="325.9" r="1.0" fill="#000" stroke-width="0.9"/>
<rect x="177" y="336.6" width="46" height="2" fill="#000" stroke="none" stroke-width="1"/>
<rect x="187" y="332.6" width="7" height="3.4" fill="#000" stroke="none" stroke-width="1"/>
<rect x="195.5" y="333.4" width="7" height="2.6" fill="#000" stroke="none" stroke-width="1"/>
<rect x="212" y="322.5" width="5" height="1.8" fill="#000" stroke="none" stroke-width="1"/>
<rect x="220.5" y="321.2" width="7" height="3" fill="#000" stroke="none" stroke-width="1"/>
<path d="M241 325.8L243.5 323.4L257.5 323.4L257.5 328.4L243.5 328.4Z" stroke-width="0.8" fill="#000"/>
<rect x="244.5" y="325" width="2" height="1.6" fill="#fff" stroke="none" stroke-width="1"/>
<rect x="132.8" y="333" width="12" height="3" fill="#fff" stroke="none" stroke-width="1"/>
<path d="M132.8 334.5L133.8 332.75L135.8 336.25L137.8 332.75L139.8 336.25L141.8 332.75L143.8 336.25L144.8 334.5" stroke-width="1.15" fill="none"/>
<rect x="124.15" y="331.35" width="1.7" height="2.9" fill="#000" stroke="none" stroke-width="1"/>
<rect x="152.15" y="331.35" width="1.7" height="2.9" fill="#000" stroke="none" stroke-width="1"/>
<circle cx="110.5" cy="357.5" r="1.5" fill="#000" stroke="none"/>
<circle cx="167.5" cy="357.5" r="1.5" fill="#000" stroke="none"/>
<rect x="132.8" y="356" width="12" height="3" fill="#fff" stroke="none" stroke-width="1"/>
<path d="M132.8 357.5L133.8 355.75L135.8 359.25L137.8 355.75L139.8 359.25L141.8 355.75L143.8 359.25L144.8 357.5" stroke-width="1.15" fill="none"/>
<rect x="124.15" y="354.55" width="1.7" height="2.9" fill="#000" stroke="none" stroke-width="1"/>
<rect x="152.15" y="354.55" width="1.7" height="2.9" fill="#000" stroke="none" stroke-width="1"/>
<path d="M136.45 384L140.55 384L138.5 379.4Z" stroke-width="1" fill="#fff"/>
<rect x="69" y="398" width="4.5" height="3" fill="#fff" stroke="none" stroke-width="1"/>
<path d="M69 393.5V405.5" stroke-width="1.5"/>
<path d="M73.5 393.5V405.5" stroke-width="1.5"/>
<rect x="65" y="406.5" width="11" height="1.4" fill="#000" stroke="none" stroke-width="1"/>
<rect x="56.15" y="395.75" width="1.7" height="2.9" fill="#000" stroke="none" stroke-width="1"/>
<rect x="84.15" y="395.75" width="1.7" height="2.9" fill="#000" stroke="none" stroke-width="1"/>
<rect x="118.15" y="395.75" width="1.7" height="2.9" fill="#000" stroke="none" stroke-width="1"/>
<circle cx="110.5" cy="399.5" r="1.5" fill="#000" stroke="none"/>
<path d="M127.5 393.2L127.5 419.8L153.2 406.5Z" stroke-width="1.2" fill="#fff"/>
<rect x="129.3" y="398.7" width="1.6" height="0.8" fill="#333" stroke="none" stroke-width="1"/>
<rect x="129.3" y="413.3" width="1.6" height="0.8" fill="#333" stroke="none" stroke-width="1"/>
<circle cx="167.5" cy="406.5" r="1.5" fill="#000" stroke="none"/>
<rect x="159" y="403.2" width="2.4" height="2.6" fill="#000" stroke="none" stroke-width="1"/>
<rect x="118.15" y="409.85" width="1.7" height="2.9" fill="#000" stroke="none" stroke-width="1"/>
<path d="M135.2 428.7L141.8 428.7L138.5 433.5Z" stroke-width="1.3" fill="#fff"/>
<rect x="139.15" y="386.85" width="1.7" height="2.9" fill="#000" stroke="none" stroke-width="1"/>
<rect x="139.15" y="419.85" width="1.7" height="2.9" fill="#000" stroke="none" stroke-width="1"/>
<rect x="32" y="430" width="3" height="12" fill="#fff" stroke="none" stroke-width="1"/>
<path d="M33.5 430L35.25 431L31.75 433L35.25 435L31.75 437L35.25 439L31.75 441L33.5 442" stroke-width="1.3" fill="none"/>
<path d="M72.45 453.2L76.55 453.2L74.5 448.6Z" stroke-width="1" fill="#fff"/>
<circle cx="74.5" cy="463.5" r="1.5" fill="#000" stroke="none"/>
<circle cx="314.5" cy="274.5" r="1.5" fill="#000" stroke="none"/>
<circle cx="388.5" cy="274.5" r="1.5" fill="#000" stroke="none"/>
<rect x="346" y="273" width="12" height="3" fill="#fff" stroke="none" stroke-width="1"/>
<path d="M346 274.5L347 272.75L349 276.25L351 272.75L353 276.25L355 272.75L357 276.25L358 274.5" stroke-width="1.15" fill="none"/>
<rect x="338.15" y="271.25" width="1.7" height="2.9" fill="#000" stroke="none" stroke-width="1"/>
<rect x="365.15" y="271.25" width="1.7" height="2.9" fill="#000" stroke="none" stroke-width="1"/>
<rect x="313" y="292.75" width="3" height="4.2" fill="#fff" stroke="none" stroke-width="1"/>
<path d="M308.7 292.75H320.3" stroke-width="1.5"/>
<path d="M308.7 296.95H320.3" stroke-width="1.5"/>
<rect x="387" y="292.75" width="3" height="4.2" fill="#fff" stroke="none" stroke-width="1"/>
<path d="M382.7 292.75H394.3" stroke-width="1.5"/>
<path d="M382.7 296.95H394.3" stroke-width="1.5"/>
<rect x="298" y="292.6" width="11" height="1.4" fill="#000" stroke="none" stroke-width="1"/>
<rect x="373.5" y="292.6" width="11" height="1.4" fill="#000" stroke="none" stroke-width="1"/>
<circle cx="314.5" cy="313.5" r="1.5" fill="#000" stroke="none"/>
<circle cx="388.5" cy="313.5" r="1.5" fill="#000" stroke="none"/>
<rect x="349.3" y="312" width="5" height="3" fill="#fff" stroke="none" stroke-width="1"/>
<path d="M349.3 307.7V319.3" stroke-width="1.5"/>
<path d="M354.3 307.7V319.3" stroke-width="1.5"/>
<rect x="337.65" y="310.05" width="1.7" height="2.9" fill="#000" stroke="none" stroke-width="1"/>
<rect x="365.65" y="310.05" width="1.7" height="2.9" fill="#000" stroke="none" stroke-width="1"/>
<rect x="315.15" y="281.85" width="1.7" height="2.9" fill="#000" stroke="none" stroke-width="1"/>
<rect x="315.15" y="304.85" width="1.7" height="2.9" fill="#000" stroke="none" stroke-width="1"/>
<rect x="389.35" y="304.85" width="1.7" height="2.9" fill="#000" stroke="none" stroke-width="1"/>
<rect x="328" y="333" width="12" height="3" fill="#fff" stroke="none" stroke-width="1"/>
<path d="M328 334.5L329 332.75L331 336.25L333 332.75L335 336.25L337 332.75L339 336.25L340 334.5" stroke-width="1.15" fill="none"/>
<rect x="363.5" y="333" width="12" height="3" fill="#fff" stroke="none" stroke-width="1"/>
<path d="M363.5 334.5L364.5 332.75L366.5 336.25L368.5 332.75L370.5 336.25L372.5 332.75L374.5 336.25L375.5 334.5" stroke-width="1.15" fill="none"/>
<circle cx="351.5" cy="334.5" r="1.5" fill="#000" stroke="none"/>
<path d="M348.3 349L354.7 349L351.5 353.6Z" stroke-width="1.3" fill="#fff"/>
<rect x="319.15" y="331.25" width="1.7" height="2.9" fill="#000" stroke="none" stroke-width="1"/>
<rect x="345.65" y="331.25" width="1.7" height="2.9" fill="#000" stroke="none" stroke-width="1"/>
<rect x="355.65" y="331.25" width="1.7" height="2.9" fill="#000" stroke="none" stroke-width="1"/>
<rect x="382.65" y="331.25" width="1.7" height="2.9" fill="#000" stroke="none" stroke-width="1"/>
<circle cx="227.5" cy="406.5" r="1.5" fill="#000" stroke="none"/>
<circle cx="301.5" cy="406.5" r="1.5" fill="#000" stroke="none"/>
<rect x="259.5" y="405" width="12" height="3" fill="#fff" stroke="none" stroke-width="1"/>
<path d="M259.5 406.5L260.5 404.75L262.5 408.25L264.5 404.75L266.5 408.25L268.5 404.75L270.5 408.25L271.5 406.5" stroke-width="1.15" fill="none"/>
<rect x="250.95" y="403.45" width="1.7" height="2.9" fill="#000" stroke="none" stroke-width="1"/>
<rect x="279.15" y="403.45" width="1.7" height="2.9" fill="#000" stroke="none" stroke-width="1"/>
<rect x="226" y="421.55" width="3" height="4.9" fill="#fff" stroke="none" stroke-width="1"/>
<path d="M221.7 421.55H233.3" stroke-width="1.5"/>
<path d="M221.7 426.45H233.3" stroke-width="1.5"/>
<rect x="300" y="421.55" width="3" height="4.9" fill="#fff" stroke="none" stroke-width="1"/>
<path d="M295.7 421.55H307.3" stroke-width="1.5"/>
<path d="M295.7 426.45H307.3" stroke-width="1.5"/>
<rect x="210" y="422.2" width="11" height="1.4" fill="#000" stroke="none" stroke-width="1"/>
<rect x="284.5" y="422.2" width="11" height="1.4" fill="#000" stroke="none" stroke-width="1"/>
<circle cx="227.5" cy="442.5" r="1.5" fill="#000" stroke="none"/>
<circle cx="301.5" cy="442.5" r="1.5" fill="#000" stroke="none"/>
<rect x="262" y="441" width="4.4" height="3" fill="#fff" stroke="none" stroke-width="1"/>
<path d="M262 436.9V448.1" stroke-width="1.5"/>
<path d="M266.4 436.9V448.1" stroke-width="1.5"/>
<rect x="249.15" y="439.45" width="1.7" height="2.9" fill="#000" stroke="none" stroke-width="1"/>
<rect x="277.35" y="439.45" width="1.7" height="2.9" fill="#000" stroke="none" stroke-width="1"/>
<rect x="240.5" y="464" width="12" height="3" fill="#fff" stroke="none" stroke-width="1"/>
<path d="M240.5 465.5L241.5 463.75L243.5 467.25L245.5 463.75L247.5 467.25L249.5 463.75L251.5 467.25L252.5 465.5" stroke-width="1.15" fill="none"/>
<rect x="275.5" y="464" width="12" height="3" fill="#fff" stroke="none" stroke-width="1"/>
<path d="M275.5 465.5L276.5 463.75L278.5 467.25L280.5 463.75L282.5 467.25L284.5 463.75L286.5 467.25L287.5 465.5" stroke-width="1.15" fill="none"/>
<circle cx="264.5" cy="465.5" r="1.5" fill="#000" stroke="none"/>
<path d="M261.4 472.5L267.6 472.5L264.5 477Z" stroke-width="1.3" fill="#fff"/>
<rect x="353.8" y="405" width="5" height="3" fill="#fff" stroke="none" stroke-width="1"/>
<path d="M353.8 400.9V412.1" stroke-width="1.5"/>
<path d="M358.8 400.9V412.1" stroke-width="1.5"/>
<rect x="341.65" y="403.45" width="1.7" height="2.9" fill="#000" stroke="none" stroke-width="1"/>
<rect x="369.15" y="403.45" width="1.7" height="2.9" fill="#000" stroke="none" stroke-width="1"/>
<path d="M18.6 500.6L34.2 500.6L36.4 502.5L34.2 504.5L18.6 504.5Z" stroke-width="0.9" fill="#000"/>
<rect x="19.6" y="501.7" width="1.6" height="1.6" fill="#fff" stroke="none" stroke-width="1"/>
<rect x="24.8" y="501.9" width="1.2" height="1.2" fill="#fff" stroke="none" stroke-width="1"/>
<rect x="29.4" y="501.9" width="1.2" height="1.2" fill="#fff" stroke="none" stroke-width="1"/>
<rect x="32.6" y="501.6" width="1.4" height="1.8" fill="#fff" stroke="none" stroke-width="1"/>
<rect x="20.2" y="496" width="13.6" height="2.6" fill="#000" stroke="none" stroke-width="1"/>
<rect x="22.4" y="496.6" width="1.2" height="1.2" fill="#fff" stroke="none" stroke-width="1"/>
<rect x="25.6" y="496.4" width="3.2" height="1" fill="#fff" stroke="none" stroke-width="1"/>
<rect x="30.6" y="496.8" width="1.2" height="1" fill="#fff" stroke="none" stroke-width="1"/>
<path d="M20.2 499.5H34.8" stroke-width="0.9"/>
<path d="M34.5 495.4V499.6" stroke-width="0.9"/>
<rect x="230.5" y="501" width="12" height="3" fill="#fff" stroke="none" stroke-width="1"/>
<path d="M230.5 502.5L231.5 500.75L233.5 504.25L235.5 500.75L237.5 504.25L239.5 500.75L241.5 504.25L242.5 502.5" stroke-width="1.15" fill="none"/>
<rect x="288.75" y="501" width="12" height="3" fill="#fff" stroke="none" stroke-width="1"/>
<path d="M288.75 502.5L289.75 500.75L291.75 504.25L293.75 500.75L295.75 504.25L297.75 500.75L299.75 504.25L300.75 502.5" stroke-width="1.15" fill="none"/>
<rect x="221.65" y="498.85" width="1.7" height="2.9" fill="#000" stroke="none" stroke-width="1"/>
<rect x="250.35" y="498.85" width="1.7" height="2.9" fill="#000" stroke="none" stroke-width="1"/>
<rect x="279.65" y="498.85" width="1.7" height="2.9" fill="#000" stroke="none" stroke-width="1"/>
<rect x="308.35" y="498.85" width="1.7" height="2.9" fill="#000" stroke="none" stroke-width="1"/>
<circle cx="264.5" cy="502.5" r="1.5" fill="#000" stroke="none"/>
<rect x="263" y="520.35" width="3" height="4.2" fill="#fff" stroke="none" stroke-width="1"/>
<path d="M258.7 520.35H270.3" stroke-width="1.5"/>
<path d="M258.7 524.55H270.3" stroke-width="1.5"/>
<circle cx="264.5" cy="543.5" r="1.5" fill="#000" stroke="none"/>
<circle cx="326.5" cy="502.5" r="1.5" fill="#000" stroke="none"/>
<rect x="325" y="522.75" width="3" height="5.3" fill="#fff" stroke="none" stroke-width="1"/>
<path d="M320.7 522.75H332.3" stroke-width="1.5"/>
<path d="M320.7 528.05H332.3" stroke-width="1.5"/>
<rect x="263" y="558" width="3" height="11.5" fill="#fff" stroke="none" stroke-width="1"/>
<path d="M264.5 558A2.4 1.92 0 0 0 264.5 561.83A2.4 1.92 0 0 0 264.5 565.67A2.4 1.92 0 0 0 264.5 569.5" stroke-width="1.35" fill="none"/>
<path d="M261.3 584.6L267.7 584.6L264.5 589.2Z" stroke-width="1.3" fill="#fff"/>
<rect x="265.15" y="532.85" width="1.7" height="2.9" fill="#000" stroke="none" stroke-width="1"/>
<rect x="265.15" y="548.85" width="1.7" height="2.9" fill="#000" stroke="none" stroke-width="1"/>
<rect x="265.15" y="574.85" width="1.7" height="2.9" fill="#000" stroke="none" stroke-width="1"/>
<rect x="327.65" y="510.85" width="1.7" height="2.9" fill="#000" stroke="none" stroke-width="1"/>
<rect x="327.65" y="534.85" width="1.7" height="2.9" fill="#000" stroke="none" stroke-width="1"/>
<rect x="353.8" y="501" width="5" height="3" fill="#fff" stroke="none" stroke-width="1"/>
<path d="M353.8 496.7V508.3" stroke-width="1.5"/>
<path d="M358.8 496.7V508.3" stroke-width="1.5"/>
<rect x="341.65" y="498.85" width="1.7" height="2.9" fill="#000" stroke="none" stroke-width="1"/>
<rect x="369" y="499.4" width="6" height="2.2" fill="#000" stroke="none" stroke-width="1"/>
<ellipse cx="380" cy="489.4" rx="1.8" ry="2.0" fill="#fff" stroke-width="1.2"/>
<circle cx="380.5" cy="502.5" r="1.5" fill="#000" stroke="none"/>
<rect x="412.5" y="472" width="26.3" height="35.3" fill="#fff" stroke="#000" stroke-width="1.1"/>
<rect x="415" y="475" width="6" height="2.4" fill="#000" stroke="none" stroke-width="1"/>
<rect x="431" y="475" width="6" height="2.4" fill="#000" stroke="none" stroke-width="1"/>
<rect x="415" y="482" width="6" height="2.4" fill="#000" stroke="none" stroke-width="1"/>
<rect x="429" y="482" width="8" height="2.4" fill="#000" stroke="none" stroke-width="1"/>
<rect x="429" y="491.5" width="8" height="2.4" fill="#000" stroke="none" stroke-width="1"/>
<rect x="414.5" y="499.5" width="6" height="2.4" fill="#000" stroke="none" stroke-width="1"/>
<rect x="429" y="499.5" width="8" height="2.4" fill="#000" stroke="none" stroke-width="1"/>
<rect x="421" y="501.5" width="7" height="2.4" fill="#000" stroke="none" stroke-width="1"/>
<rect x="404.15" y="473.35" width="1.7" height="2.9" fill="#000" stroke="none" stroke-width="1"/>
<rect x="404.15" y="481.35" width="1.7" height="2.9" fill="#000" stroke="none" stroke-width="1"/>
<rect x="404.15" y="498.85" width="1.7" height="2.9" fill="#000" stroke="none" stroke-width="1"/>
<rect x="445.65" y="473.35" width="1.7" height="2.9" fill="#000" stroke="none" stroke-width="1"/>
<rect x="445.65" y="481.35" width="1.7" height="2.9" fill="#000" stroke="none" stroke-width="1"/>
<rect x="445.65" y="498.85" width="1.7" height="2.9" fill="#000" stroke="none" stroke-width="1"/>
<rect x="426.5" y="511.6" width="15" height="2.4" fill="#000" stroke="none" stroke-width="1"/>
<circle cx="425.5" cy="528.5" r="1.5" fill="#000" stroke="none"/>
<circle cx="476.5" cy="528.5" r="1.5" fill="#000" stroke="none"/>
<path d="M422.2 538.6L428.8 538.6L425.5 543.4Z" stroke-width="1.9" fill="#fff"/>
<rect x="446.5" y="527" width="4.1" height="3" fill="#fff" stroke="none" stroke-width="1"/>
<path d="M446.5 521.5V535.5" stroke-width="1.5"/>
<path d="M450.6 521.5V535.5" stroke-width="1.5"/>
<rect x="432.95" y="525.85" width="1.7" height="2.9" fill="#000" stroke="none" stroke-width="1"/>
<rect x="461.15" y="525.85" width="1.7" height="2.9" fill="#000" stroke="none" stroke-width="1"/>
<rect x="445.3" y="561.2" width="11" height="12.8" fill="#fff" stroke="#000" stroke-width="1.1"/>
<rect x="475" y="548.25" width="3" height="4.5" fill="#fff" stroke="none" stroke-width="1"/>
<path d="M470.5 548.25H482.5" stroke-width="1.5"/>
<path d="M470.5 552.75H482.5" stroke-width="1.5"/>
<path d="M473.2 575.6L479.8 575.6L476.5 580.4Z" stroke-width="1.3" fill="#fff"/>
<rect x="477.45" y="538.85" width="1.7" height="2.9" fill="#000" stroke="none" stroke-width="1"/>
<rect x="477.45" y="561.85" width="1.7" height="2.9" fill="#000" stroke="none" stroke-width="1"/>
<rect x="398" y="548.95" width="3" height="4.3" fill="#fff" stroke="none" stroke-width="1"/>
<path d="M393.7 548.95H405.3" stroke-width="1.5"/>
<path d="M393.7 553.25H405.3" stroke-width="1.5"/>
<path d="M396.2 575.8L402.8 575.8L399.5 580.6Z" stroke-width="1.3" fill="#fff"/>
<rect x="400.15" y="535.85" width="1.7" height="2.9" fill="#000" stroke="none" stroke-width="1"/>
<rect x="400.15" y="564.85" width="1.7" height="2.9" fill="#000" stroke="none" stroke-width="1"/>
<rect x="475" y="327" width="3" height="12" fill="#fff" stroke="none" stroke-width="1"/>
<path d="M476.5 327L478.25 328L474.75 330L478.25 332L474.75 334L478.25 336L474.75 338L476.5 339" stroke-width="1.3" fill="none"/>
<circle cx="476.5" cy="353.5" r="1.5" fill="#000" stroke="none"/>
<rect x="475" y="372" width="3" height="12" fill="#fff" stroke="none" stroke-width="1"/>
<path d="M476.5 372L478.25 373L474.75 375L478.25 377L474.75 379L478.25 381L474.75 383L476.5 384" stroke-width="1.3" fill="none"/>
<rect x="513" y="372.75" width="3" height="3.5" fill="#fff" stroke="none" stroke-width="1"/>
<path d="M508.7 372.75H520.3" stroke-width="1.5"/>
<path d="M508.7 378.1Q514.5 374.7 520.3 378.1" stroke-width="1.5" fill="none"/>
<path d="M511.4 394.3L517.6 394.3L514.5 399.1Z" stroke-width="1.3" fill="#000"/>
<rect x="514.95" y="359.85" width="1.7" height="2.9" fill="#000" stroke="none" stroke-width="1"/>
<rect x="514.95" y="385.85" width="1.7" height="2.9" fill="#000" stroke="none" stroke-width="1"/>
<rect x="451" y="434.15" width="3" height="4.1" fill="#fff" stroke="none" stroke-width="1"/>
<path d="M446.5 434.15H458.5" stroke-width="1.5"/>
<path d="M446.5 438.25H458.5" stroke-width="1.5"/>
<path d="M449.3 455.6L455.7 455.6L452.5 460.3Z" stroke-width="1.3" fill="#fff"/>
<rect x="453.15" y="423.85" width="1.7" height="2.9" fill="#000" stroke="none" stroke-width="1"/>
<rect x="453.15" y="446.85" width="1.7" height="2.9" fill="#000" stroke="none" stroke-width="1"/>
<rect x="514" y="446" width="12" height="3" fill="#fff" stroke="none" stroke-width="1"/>
<path d="M514 447.5L515 445.75L517 449.25L519 445.75L521 449.25L523 445.75L525 449.25L526 447.5" stroke-width="1.15" fill="none"/>
<rect x="505.15" y="444.65" width="1.7" height="2.9" fill="#000" stroke="none" stroke-width="1"/>
<rect x="534.15" y="444.65" width="1.7" height="2.9" fill="#000" stroke="none" stroke-width="1"/>
<rect x="515.3" y="529" width="12" height="3" fill="#fff" stroke="none" stroke-width="1"/>
<path d="M515.3 530.5L516.3 528.75L518.3 532.25L520.3 528.75L522.3 532.25L524.3 528.75L526.3 532.25L527.3 530.5" stroke-width="1.15" fill="none"/>
<rect x="506.15" y="526.85" width="1.7" height="2.9" fill="#000" stroke="none" stroke-width="1"/>
<rect x="535.15" y="526.85" width="1.7" height="2.9" fill="#000" stroke="none" stroke-width="1"/>
<rect x="559" y="405" width="12" height="3" fill="#fff" stroke="none" stroke-width="1"/>
<path d="M559 406.5L560 404.75L562 408.25L564 404.75L566 408.25L568 404.75L570 408.25L571 406.5" stroke-width="1.15" fill="none"/>
<rect x="550.65" y="403.45" width="1.7" height="2.9" fill="#000" stroke="none" stroke-width="1"/>
<rect x="578.65" y="403.45" width="1.7" height="2.9" fill="#000" stroke="none" stroke-width="1"/>
<circle cx="587.5" cy="406.5" r="1.5" fill="#000" stroke="none"/>
<circle cx="587.5" cy="447.5" r="1.5" fill="#000" stroke="none"/>
<circle cx="587.5" cy="488.5" r="1.5" fill="#000" stroke="none"/>
<rect x="586" y="427.05" width="3" height="4.2" fill="#fff" stroke="none" stroke-width="1"/>
<path d="M581.5 427.05H593.5" stroke-width="1.5"/>
<path d="M581.5 431.25H593.5" stroke-width="1.5"/>
<rect x="586" y="461.5" width="3" height="12" fill="#fff" stroke="none" stroke-width="1"/>
<path d="M587.5 461.5L589.25 462.5L585.75 464.5L589.25 466.5L585.75 468.5L589.25 470.5L585.75 472.5L587.5 473.5" stroke-width="1.15" fill="none"/>
<rect x="563.2" y="487" width="4.4" height="3" fill="#fff" stroke="none" stroke-width="1"/>
<path d="M563.2 482.9V494.1" stroke-width="1.5"/>
<path d="M567.6 482.9V494.1" stroke-width="1.5"/>
<rect x="550.65" y="485.85" width="1.7" height="2.9" fill="#000" stroke="none" stroke-width="1"/>
<rect x="578.65" y="485.85" width="1.7" height="2.9" fill="#000" stroke="none" stroke-width="1"/>
<rect x="588.15" y="414.85" width="1.7" height="2.9" fill="#000" stroke="none" stroke-width="1"/>
<rect x="588.15" y="438.85" width="1.7" height="2.9" fill="#000" stroke="none" stroke-width="1"/>
<rect x="588.15" y="454.85" width="1.7" height="2.9" fill="#000" stroke="none" stroke-width="1"/>
<rect x="588.15" y="479.85" width="1.7" height="2.9" fill="#000" stroke="none" stroke-width="1"/>
<circle cx="599.5" cy="530.5" r="1.5" fill="#000" stroke="none"/>
<circle cx="612.5" cy="406.5" r="1.5" fill="#000" stroke="none"/>
<circle cx="612.5" cy="447.5" r="1.5" fill="#000" stroke="none"/>
<circle cx="612.5" cy="488.5" r="1.5" fill="#000" stroke="none"/>
<rect x="611" y="427.05" width="3" height="4.2" fill="#fff" stroke="none" stroke-width="1"/>
<path d="M606.5 427.05H618.5" stroke-width="1.5"/>
<path d="M606.5 431.25H618.5" stroke-width="1.5"/>
<rect x="611" y="461.5" width="3" height="12" fill="#fff" stroke="none" stroke-width="1"/>
<path d="M612.5 461.5L614.25 462.5L610.75 464.5L614.25 466.5L610.75 468.5L614.25 470.5L610.75 472.5L612.5 473.5" stroke-width="1.15" fill="none"/>
<rect x="628" y="405" width="12" height="3" fill="#fff" stroke="none" stroke-width="1"/>
<path d="M628 406.5L629 404.75L631 408.25L633 404.75L635 408.25L637 404.75L639 408.25L640 406.5" stroke-width="1.15" fill="none"/>
<rect x="620.15" y="403.45" width="1.7" height="2.9" fill="#000" stroke="none" stroke-width="1"/>
<rect x="648.15" y="403.45" width="1.7" height="2.9" fill="#000" stroke="none" stroke-width="1"/>
<rect x="632.8" y="487" width="4.4" height="3" fill="#fff" stroke="none" stroke-width="1"/>
<path d="M632.8 482.7V494.3" stroke-width="1.5"/>
<path d="M637.2 482.7V494.3" stroke-width="1.5"/>
<rect x="620.15" y="485.85" width="1.7" height="2.9" fill="#000" stroke="none" stroke-width="1"/>
<rect x="648.15" y="485.85" width="1.7" height="2.9" fill="#000" stroke="none" stroke-width="1"/>
<rect x="710.5" y="446" width="12" height="3" fill="#fff" stroke="none" stroke-width="1"/>
<path d="M710.5 447.5L711.5 445.75L713.5 449.25L715.5 445.75L717.5 449.25L719.5 445.75L721.5 449.25L722.5 447.5" stroke-width="1.15" fill="none"/>
<rect x="703.15" y="444.65" width="1.7" height="2.9" fill="#000" stroke="none" stroke-width="1"/>
<rect x="729.15" y="444.65" width="1.7" height="2.9" fill="#000" stroke="none" stroke-width="1"/>
<path d="M689.75 471L689.75 497.3L715.3 484.15Z" stroke-width="1.2" fill="#fff"/>
<rect x="691.55" y="476.5" width="1.6" height="0.8" fill="#333" stroke="none" stroke-width="1"/>
<rect x="691.55" y="490.8" width="1.6" height="0.8" fill="#333" stroke="none" stroke-width="1"/>
<circle cx="735.5" cy="483.5" r="1.5" fill="#000" stroke="none"/>
<rect x="680.65" y="472.85" width="1.7" height="2.9" fill="#000" stroke="none" stroke-width="1"/>
<rect x="680.65" y="486.35" width="1.7" height="2.9" fill="#000" stroke="none" stroke-width="1"/>
<rect x="723.15" y="480.35" width="1.7" height="2.9" fill="#000" stroke="none" stroke-width="1"/>
<path d="M697.2 509.6L703.8 509.6L700.5 514.4Z" stroke-width="1.3" fill="#fff"/>
<rect x="700.95" y="465.85" width="1.7" height="2.9" fill="#000" stroke="none" stroke-width="1"/>
<rect x="700.95" y="499.85" width="1.7" height="2.9" fill="#000" stroke="none" stroke-width="1"/>
<rect x="676" y="409.3" width="10.3" height="10.7" fill="#fff" stroke="#000" stroke-width="1"/>
<path d="M686.3 415H690Q693 415 695 417L717.8 436.3" stroke-width="1.5" fill="none"/>
<rect x="734" y="514" width="3" height="12" fill="#fff" stroke="none" stroke-width="1"/>
<path d="M735.5 514L737.25 515L733.75 517L737.25 519L733.75 521L737.25 523L733.75 525L735.5 526" stroke-width="1.15" fill="none"/>
<circle cx="735.5" cy="537.5" r="1.5" fill="#000" stroke="none"/>
<ellipse cx="766.5" cy="526.2" rx="1.8" ry="2.0" fill="#fff" stroke-width="1.2"/>
<path d="M797.2 535.6L811.5 535.6L814.3 537.9L811.5 540.3L797.2 540.3Z" stroke-width="0.8" fill="#000"/>
<path d="M810.4 536.7L812.8 537.9L810.4 539.1Z" stroke-width="0" fill="#fff"/>
<rect x="800.5" y="537.3" width="1.1" height="1.1" fill="#fff" stroke="none" stroke-width="1"/>
<rect x="804.5" y="537.3" width="1.1" height="1.1" fill="#fff" stroke="none" stroke-width="1"/>
<rect x="734" y="550.3" width="3" height="12" fill="#fff" stroke="none" stroke-width="1"/>
<path d="M735.5 550.3L737.25 551.3L733.75 553.3L737.25 555.3L733.75 557.3L737.25 559.3L733.75 561.3L735.5 562.3" stroke-width="1.15" fill="none"/>
<path d="M732.2 578.8L738.8 578.8L735.5 583.6Z" stroke-width="1.3" fill="#000"/>
<rect x="735.95" y="568.85" width="1.7" height="2.9" fill="#000" stroke="none" stroke-width="1"/>
<rect x="735.95" y="530.85" width="1.7" height="2.9" fill="#000" stroke="none" stroke-width="1"/>
<path d="M736.45 245.8L740.55 245.8L738.5 241.2Z" stroke-width="1" fill="#fff"/>
<rect x="737" y="269" width="3" height="12" fill="#fff" stroke="none" stroke-width="1"/>
<path d="M738.5 269L740.25 270L736.75 272L740.25 274L736.75 276L740.25 278L736.75 280L738.5 281" stroke-width="1.3" fill="none"/>
<circle cx="737.5" cy="297.5" r="1.5" fill="#000" stroke="none"/>
<rect x="736" y="316.55" width="3" height="3.9" fill="#fff" stroke="none" stroke-width="1"/>
<path d="M731.7 316.55H743.3" stroke-width="1.5"/>
<path d="M731.7 320.45H743.3" stroke-width="1.5"/>
<path d="M734.2 338.2L740.8 338.2L737.5 343Z" stroke-width="1.3" fill="#fff"/>
<rect x="738.35" y="304.85" width="1.7" height="2.9" fill="#000" stroke="none" stroke-width="1"/>
<rect x="738.35" y="328.85" width="1.7" height="2.9" fill="#000" stroke="none" stroke-width="1"/>
<rect x="771.8" y="297" width="12" height="3" fill="#fff" stroke="none" stroke-width="1"/>
<path d="M771.8 298.5L772.8 296.75L774.8 300.25L776.8 296.75L778.8 300.25L780.8 296.75L782.8 300.25L783.8 298.5" stroke-width="1.15" fill="none"/>
<rect x="765.15" y="295.05" width="1.7" height="2.9" fill="#000" stroke="none" stroke-width="1"/>
<rect x="789.15" y="295.05" width="1.7" height="2.9" fill="#000" stroke="none" stroke-width="1"/>
<circle cx="797.5" cy="298.5" r="1.5" fill="#000" stroke="none"/>
<path d="M795.45 276.2L799.55 276.2L797.5 271.6Z" stroke-width="1" fill="#fff"/>
<rect x="796" y="316.55" width="3" height="3.9" fill="#fff" stroke="none" stroke-width="1"/>
<path d="M791.5 316.55H803.5" stroke-width="1.5"/>
<path d="M791.5 320.45H803.5" stroke-width="1.5"/>
<path d="M794.2 338.2L800.8 338.2L797.5 343Z" stroke-width="1.3" fill="#fff"/>
<rect x="687.2" y="282.8" width="4.2" height="3.6" fill="#fff" stroke="#000" stroke-width="0.9"/>
<circle cx="689.5" cy="295.5" r="1.5" fill="#000" stroke="none"/>
<circle cx="700.5" cy="295.5" r="1.5" fill="#000" stroke="none"/>
<rect x="699" y="331.2" width="3" height="12" fill="#fff" stroke="none" stroke-width="1"/>
<path d="M700.5 331.2L702.25 332.2L698.75 334.2L702.25 336.2L698.75 338.2L702.25 340.2L698.75 342.2L700.5 343.2" stroke-width="1.15" fill="none"/>
<rect x="700.95" y="354.85" width="1.7" height="2.9" fill="#000" stroke="none" stroke-width="1"/>
<circle cx="700.5" cy="366.5" r="1.5" fill="#000" stroke="none"/>
<circle cx="723.5" cy="366.5" r="1.5" fill="#000" stroke="none"/>
<circle cx="723.5" cy="405.5" r="1.5" fill="#000" stroke="none"/>
<rect x="722" y="384.75" width="3" height="3.5" fill="#fff" stroke="none" stroke-width="1"/>
<path d="M717.9 384.75H729.1" stroke-width="1.5"/>
<path d="M717.9 390.1Q723.5 386.7 729.1 390.1" stroke-width="1.5" fill="none"/>
<rect x="745" y="384.15" width="3" height="4.1" fill="#fff" stroke="none" stroke-width="1"/>
<path d="M740.7 384.15H752.3" stroke-width="1.5"/>
<path d="M740.7 388.25H752.3" stroke-width="1.5"/>
<path d="M720.2 411L726.8 411L723.5 415.8Z" stroke-width="1.3" fill="#fff"/>
<rect x="724.15" y="374.85" width="1.7" height="2.9" fill="#000" stroke="none" stroke-width="1"/>
<rect x="724.15" y="396.85" width="1.7" height="2.9" fill="#000" stroke="none" stroke-width="1"/>
<rect x="747.15" y="396.85" width="1.7" height="2.9" fill="#000" stroke="none" stroke-width="1"/>
<rect x="27.7" y="614.4" width="11" height="12.7" fill="#fff" stroke="#000" stroke-width="1.1"/>
<path d="M30.6 628.2H28.7V633.4H30.6M36.5 627.4V634.4" stroke-width="1.1" fill="none"/>
<path d="M31.6 630.6L32.7 629.2L33.8 630.6" stroke-width="0.9" fill="none"/>
<rect x="736.4" y="607.5" width="88" height="1.7" fill="#000" stroke="none" stroke-width="1"/>
<rect x="790" y="609.2" width="33" height="3" fill="#000" stroke="none" stroke-width="1"/>
<rect x="738" y="614.4" width="3" height="1.2" fill="#000" stroke="none" stroke-width="1"/>
<rect x="738" y="629.4" width="3" height="1.1" fill="#000" stroke="none" stroke-width="1"/>
<rect x="748" y="629.4" width="5" height="1.1" fill="#000" stroke="none" stroke-width="1"/>
<rect x="816" y="629.4" width="6" height="1.1" fill="#000" stroke="none" stroke-width="1"/>
<rect x="750" y="639.6" width="14" height="1.6" fill="#000" stroke="none" stroke-width="1"/>
<rect x="775" y="639.2" width="24" height="2.4" fill="#000" stroke="none" stroke-width="1"/>
<rect x="803" y="639.4" width="3" height="2" fill="#000" stroke="none" stroke-width="1"/>
<rect x="809" y="639.4" width="3" height="2" fill="#000" stroke="none" stroke-width="1"/>
<rect x="818" y="639.4" width="4" height="2" fill="#000" stroke="none" stroke-width="1"/>
<rect x="655" y="598.8" width="43.3" height="14.4" fill="#000" stroke="none" stroke-width="1"/>
<rect x="663" y="603.4" width="12.6" height="9.2" fill="#fff" stroke="none" stroke-width="1"/>
<rect x="655.6" y="601.6" width="3" height="7.6" fill="#fff" stroke="none" stroke-width="1"/>
<rect x="675.6" y="599.4" width="2.6" height="7.6" fill="#fff" stroke="none" stroke-width="1"/>
<rect x="682" y="604.8" width="7.6" height="2.8" fill="#fff" stroke="none" stroke-width="1"/>
<rect x="694" y="599.4" width="3.8" height="6.8" fill="#fff" stroke="none" stroke-width="1"/>
<rect x="659.8" y="605.5" width="1.6" height="3.4" fill="#fff" stroke="none" stroke-width="1"/>
<rect x="678.2" y="609" width="3" height="1.6" fill="#fff" stroke="none" stroke-width="1"/>
<rect x="691" y="609.2" width="1.4" height="3.2" fill="#fff" stroke="none" stroke-width="1"/>
<rect x="666.5" y="600.2" width="1.2" height="1.4" fill="#fff" stroke="none" stroke-width="1"/>
<rect x="664.6" y="605.6" width="1.2" height="5.2" fill="#000" stroke="none" stroke-width="1"/>
<rect x="656.4" y="614" width="6" height="1.7" fill="#000" stroke="none" stroke-width="1"/>
<rect x="655.8" y="628.9" width="6" height="1.8" fill="#000" stroke="none" stroke-width="1"/>
<rect x="703" y="598.8" width="28.5" height="7" fill="#000" stroke="none" stroke-width="1"/>
<rect x="703.2" y="607" width="30.5" height="14.2" fill="#000" stroke="none" stroke-width="1"/>
<path d="M699 598.8L703.4 598.8L705 612L699 612Z" stroke-width="0" fill="#fff"/>
<path d="M699.2 621.2L699.2 613L703.6 613L702.4 621.2Z" stroke-width="0.1" fill="#000"/>
<path d="M731.5 598.8L736 598.8L736 609L730.2 609Z" stroke-width="0" fill="#fff"/>
<path d="M733.7 614L735.8 614L735.8 621.2L731.5 621.2Z" stroke-width="0.1" fill="#000"/>
<rect x="706" y="600" width="1.2" height="1.2" fill="#fff" stroke="none" stroke-width="1"/>
<rect x="710" y="599.6" width="1.2" height="1.2" fill="#fff" stroke="none" stroke-width="1"/>
<rect x="714" y="602.6" width="1.2" height="1.2" fill="#fff" stroke="none" stroke-width="1"/>
<rect x="721" y="599.8" width="1.2" height="1.2" fill="#fff" stroke="none" stroke-width="1"/>
<rect x="728" y="599.6" width="1.2" height="1.2" fill="#fff" stroke="none" stroke-width="1"/>
<rect x="713.5" y="608.2" width="1.2" height="1.2" fill="#fff" stroke="none" stroke-width="1"/>
<rect x="720.5" y="609.4" width="1.2" height="1.2" fill="#fff" stroke="none" stroke-width="1"/>
<rect x="722.5" y="612.2" width="1.2" height="1.2" fill="#fff" stroke="none" stroke-width="1"/>
<rect x="704.6" y="614.4" width="1.2" height="1.2" fill="#fff" stroke="none" stroke-width="1"/>
<rect x="724" y="614.8" width="1.2" height="1.2" fill="#fff" stroke="none" stroke-width="1"/>
<rect x="728.4" y="614.6" width="1.2" height="1.2" fill="#fff" stroke="none" stroke-width="1"/>
<rect x="711.6" y="618" width="1.2" height="1.2" fill="#fff" stroke="none" stroke-width="1"/>
<rect x="715" y="620" width="1.2" height="1.2" fill="#fff" stroke="none" stroke-width="1"/>
<rect x="719" y="619.2" width="1.2" height="1.2" fill="#fff" stroke="none" stroke-width="1"/>
<rect x="721.4" y="617.6" width="1.2" height="1.2" fill="#fff" stroke="none" stroke-width="1"/>
<rect x="726.6" y="618.4" width="1.2" height="1.2" fill="#fff" stroke="none" stroke-width="1"/>
<rect x="699.4" y="623.8" width="3.6" height="3.4" fill="#000" stroke="none" stroke-width="1"/>
<rect x="703.5" y="625.6" width="19" height="2.2" fill="#000" stroke="none" stroke-width="1"/>
<rect x="705.5" y="624.2" width="1.4" height="1.6" fill="#000" stroke="none" stroke-width="1"/>
<rect x="708.5" y="624.2" width="1.4" height="1.6" fill="#000" stroke="none" stroke-width="1"/>
<rect x="711.5" y="624.2" width="1.4" height="1.6" fill="#000" stroke="none" stroke-width="1"/>
<rect x="718" y="624.2" width="1.4" height="1.6" fill="#000" stroke="none" stroke-width="1"/>
<rect x="723.4" y="621.2" width="3.8" height="7" fill="#000" stroke="none" stroke-width="1"/>
<rect x="728" y="624.4" width="8" height="3.6" fill="#000" stroke="none" stroke-width="1"/>
<rect x="729" y="624" width="1" height="1.2" fill="#fff" stroke="none" stroke-width="1"/>
<rect x="731.2" y="624" width="1" height="1.2" fill="#fff" stroke="none" stroke-width="1"/>
<rect x="733.4" y="624" width="1" height="1.2" fill="#fff" stroke="none" stroke-width="1"/>
<rect x="699.4" y="632.6" width="9.6" height="2.2" fill="#000" stroke="none" stroke-width="1"/>
<rect x="724.6" y="632.6" width="3.6" height="2" fill="#000" stroke="none" stroke-width="1"/>
<rect x="699.4" y="637.6" width="8" height="1.8" fill="#000" stroke="none" stroke-width="1"/>
<rect x="724.6" y="637.6" width="3.2" height="1.6" fill="#000" stroke="none" stroke-width="1"/></g>
<g id="texts" stroke="none" style="opacity:0.999"><text transform="translate(739 9.6) scale(1 1)" font-family="Liberation Mono, monospace" font-size="5.2" font-weight="bold" text-anchor="start" fill="#000" stroke="#000" stroke-width="0.34">## ### 1</text>
<text transform="translate(36 29.2) scale(1 1.12)" font-family="Liberation Mono, monospace" font-size="6.2" font-weight="bold" text-anchor="start" fill="#000" stroke="#000" stroke-width="0.34">+5V</text>
<text transform="translate(44 113) scale(1 1.12)" font-family="Liberation Mono, monospace" font-size="6.2" font-weight="bold" text-anchor="start" fill="#000" stroke="#000" stroke-width="0.34">AGND</text>
<text transform="translate(23 67.5) scale(1 1.12)" font-family="Liberation Mono, monospace" font-size="6.2" font-weight="bold" text-anchor="start" fill="#000" stroke="#000" stroke-width="0.34">C119</text>
<text transform="translate(66 69) scale(1 1.12)" font-family="Liberation Mono, monospace" font-size="6.2" font-weight="bold" text-anchor="start" fill="#000" stroke="#000" stroke-width="0.34">C115</text>
<rect x="26.7" y="71.4" width="9.6" height="1.8" fill="#000"/>
<text transform="translate(33.5 72.1) scale(1 1)" font-family="Liberation Sans, sans-serif" font-size="3.4" font-weight="bold" stroke="#000" stroke-width="0.4" fill="#000">uF</text>
<path d="M27.4 74.8h5.6l1.4 1.2v4.7h-7z" fill="#000"/>
<rect x="29.3" y="76" width="0.9" height="1.7" fill="#fff"/>
<rect x="31.8" y="77.6" width="0.9" height="1.9" fill="#fff"/>
<rect x="29.4" y="79.2" width="1.0" height="0.9" fill="#fff"/>
<rect x="69.2" y="72.9" width="9.6" height="1.8" fill="#000"/>
<text transform="translate(76 73.6) scale(1 1)" font-family="Liberation Sans, sans-serif" font-size="3.4" font-weight="bold" stroke="#000" stroke-width="0.4" fill="#000">uF</text>
<path d="M69.9 76.3h5.6l1.4 1.2v4.7h-7z" fill="#000"/>
<rect x="71.8" y="77.5" width="0.9" height="1.7" fill="#fff"/>
<rect x="74.3" y="79.1" width="0.9" height="1.9" fill="#fff"/>
<rect x="71.9" y="80.7" width="1.0" height="0.9" fill="#fff"/>
<text transform="translate(87 74) scale(1 1.12)" font-family="Liberation Mono, monospace" font-size="6.2" font-weight="bold" text-anchor="start" fill="#000" stroke="#000" stroke-width="0.34">AGND</text>
<text transform="translate(130 62.6) scale(1 1.12)" font-family="Liberation Mono, monospace" font-size="6" font-weight="bold" text-anchor="start" fill="#000" stroke="#000" stroke-width="0.34">C190</text>
<text transform="translate(165 62.6) scale(1 1.12)" font-family="Liberation Mono, monospace" font-size="6" font-weight="bold" text-anchor="start" fill="#000" stroke="#000" stroke-width="0.34">C191</text>
<text transform="translate(189.5 62.6) scale(1 1.12)" font-family="Liberation Mono, monospace" font-size="6" font-weight="bold" text-anchor="start" fill="#000" stroke="#000" stroke-width="0.34">C|81A</text>
<text transform="translate(134 56.2) scale(1 1.12)" font-family="Liberation Mono, monospace" font-size="5.6" font-weight="bold" text-anchor="start" fill="#000" stroke="#000" stroke-width="0.34">(+)</text>
<text transform="translate(169 56.2) scale(1 1.12)" font-family="Liberation Mono, monospace" font-size="5.6" font-weight="bold" text-anchor="start" fill="#000" stroke="#000" stroke-width="0.34">(+)</text>
<text transform="translate(193 56.2) scale(1 1.12)" font-family="Liberation Mono, monospace" font-size="5.6" font-weight="bold" text-anchor="start" fill="#000" stroke="#000" stroke-width="0.34">|+</text>
<rect x="134.7" y="70.4" width="9.6" height="1.8" fill="#000"/>
<text transform="translate(141.5 71.1) scale(1 1)" font-family="Liberation Sans, sans-serif" font-size="3.4" font-weight="bold" stroke="#000" stroke-width="0.4" fill="#000">uF</text>
<path d="M135.4 73.8h5.6l1.4 1.2v4.7h-7z" fill="#000"/>
<rect x="137.3" y="75" width="0.9" height="1.7" fill="#fff"/>
<rect x="139.8" y="76.6" width="0.9" height="1.9" fill="#fff"/>
<rect x="137.4" y="78.2" width="1.0" height="0.9" fill="#fff"/>
<rect x="169.7" y="70.4" width="9.6" height="1.8" fill="#000"/>
<text transform="translate(176.5 71.1) scale(1 1)" font-family="Liberation Sans, sans-serif" font-size="3.4" font-weight="bold" stroke="#000" stroke-width="0.4" fill="#000">uF</text>
<path d="M170.4 73.8h5.6l1.4 1.2v4.7h-7z" fill="#000"/>
<rect x="172.3" y="75" width="0.9" height="1.7" fill="#fff"/>
<rect x="174.8" y="76.6" width="0.9" height="1.9" fill="#fff"/>
<rect x="172.4" y="78.2" width="1.0" height="0.9" fill="#fff"/>
<rect x="195.7" y="70.4" width="9.6" height="1.8" fill="#000"/>
<text transform="translate(202.5 71.1) scale(1 1)" font-family="Liberation Sans, sans-serif" font-size="3.4" font-weight="bold" stroke="#000" stroke-width="0.4" fill="#000">uF</text>
<path d="M196.4 73.8h5.6l1.4 1.2v4.7h-7z" fill="#000"/>
<rect x="198.3" y="75" width="0.9" height="1.7" fill="#fff"/>
<rect x="200.8" y="76.6" width="0.9" height="1.9" fill="#fff"/>
<rect x="198.4" y="78.2" width="1.0" height="0.9" fill="#fff"/>
<text transform="translate(202.5 86) scale(1 1.12)" font-family="Liberation Mono, monospace" font-size="6" font-weight="bold" text-anchor="start" fill="#000" stroke="#000" stroke-width="0.34">C108</text>
<rect x="209.2" y="101.9" width="9.6" height="1.8" fill="#000"/>
<text transform="translate(216 102.6) scale(1 1)" font-family="Liberation Sans, sans-serif" font-size="3.4" font-weight="bold" stroke="#000" stroke-width="0.4" fill="#000">uF</text>
<path d="M209.9 105.3h5.6l1.4 1.2v4.7h-7z" fill="#000"/>
<rect x="211.8" y="106.5" width="0.9" height="1.7" fill="#fff"/>
<rect x="214.3" y="108.1" width="0.9" height="1.9" fill="#fff"/>
<rect x="211.9" y="109.7" width="1.0" height="0.9" fill="#fff"/>
<text transform="translate(244 89.5) scale(1 1.12)" font-family="Liberation Mono, monospace" font-size="6" font-weight="bold" text-anchor="start" fill="#000" stroke="#000" stroke-width="0.34">R100</text>
<text transform="translate(246 104) scale(0.5 1)" font-family="Liberation Sans, sans-serif" font-size="8.6" font-weight="bold" stroke="#000" stroke-width="0.85" fill="#000">1.00K</text>
<text transform="translate(246.3 109.1) scale(1 1)" font-family="Liberation Sans, sans-serif" font-size="3.6" font-weight="bold" stroke="#000" stroke-width="0.5" fill="#000">1%</text>
<text transform="translate(285 85) scale(1 1.12)" font-family="Liberation Mono, monospace" font-size="6" font-weight="bold" text-anchor="start" fill="#000" stroke="#000" stroke-width="0.34">C166</text>
<rect x="287.2" y="100.4" width="9.6" height="1.8" fill="#000"/>
<text transform="translate(294 101.1) scale(1 1)" font-family="Liberation Sans, sans-serif" font-size="3.4" font-weight="bold" stroke="#000" stroke-width="0.4" fill="#000">uF</text>
<path d="M287.9 103.8h5.6l1.4 1.2v4.7h-7z" fill="#000"/>
<rect x="289.8" y="105" width="0.9" height="1.7" fill="#fff"/>
<rect x="292.3" y="106.6" width="0.9" height="1.9" fill="#fff"/>
<rect x="289.9" y="108.2" width="1.0" height="0.9" fill="#fff"/>
<text transform="translate(315.5 104.5) scale(1 1.12)" font-family="Liberation Mono, monospace" font-size="6" font-weight="bold" text-anchor="start" fill="#000" stroke="#000" stroke-width="0.34">R162</text>
<text transform="translate(318.5 116.8) scale(0.5 1)" font-family="Liberation Sans, sans-serif" font-size="8.6" font-weight="bold" stroke="#000" stroke-width="0.85" fill="#000">1.00K</text>
<text transform="translate(318.8 121.9) scale(1 1)" font-family="Liberation Sans, sans-serif" font-size="3.6" font-weight="bold" stroke="#000" stroke-width="0.5" fill="#000">1%</text>
<text transform="translate(338.5 76) scale(1 1.12)" font-family="Liberation Mono, monospace" font-size="6.2" font-weight="bold" text-anchor="start" fill="#000" stroke="#000" stroke-width="0.34">VCCU166</text>
<text transform="translate(375 33.2) scale(1 1.12)" font-family="Liberation Mono, monospace" font-size="6.2" font-weight="bold" text-anchor="start" fill="#000" stroke="#000" stroke-width="0.34">+12VA</text>
<text transform="translate(388 56.2) scale(1 1.12)" font-family="Liberation Mono, monospace" font-size="6" font-weight="bold" text-anchor="start" fill="#000" stroke="#000" stroke-width="0.34">R161</text>
<text transform="translate(388.5 65.2) scale(0.7 1)" font-family="Liberation Sans, sans-serif" font-size="7.8" font-weight="bold" stroke="#000" stroke-width="0.75" fill="#000">1</text>
<text transform="translate(391.8 65.2) scale(0.95 1)" font-family="Liberation Sans, sans-serif" font-size="4.9" font-weight="bold" stroke="#000" stroke-width="0.85" fill="#000">0HM</text>
<text transform="translate(388.8 69.4) scale(1 1)" font-family="Liberation Sans, sans-serif" font-size="3.4" font-weight="bold" stroke="#000" stroke-width="0.45" fill="#000">5%</text>
<text transform="translate(387.5 88) scale(1 1.12)" font-family="Liberation Mono, monospace" font-size="6" font-weight="bold" text-anchor="start" fill="#000" stroke="#000" stroke-width="0.34">C165</text>
<rect x="389.7" y="96.4" width="9.6" height="1.8" fill="#000"/>
<text transform="translate(396.5 97.1) scale(1 1)" font-family="Liberation Sans, sans-serif" font-size="3.4" font-weight="bold" stroke="#000" stroke-width="0.4" fill="#000">uF</text>
<path d="M390.4 99.8h5.6l1.4 1.2v4.7h-7z" fill="#000"/>
<rect x="392.3" y="101" width="0.9" height="1.7" fill="#fff"/>
<rect x="394.8" y="102.6" width="0.9" height="1.9" fill="#fff"/>
<rect x="392.4" y="104.2" width="1.0" height="0.9" fill="#fff"/>
<text transform="translate(376 132.5) scale(1 1.12)" font-family="Liberation Mono, monospace" font-size="6.2" font-weight="bold" text-anchor="start" fill="#000" stroke="#000" stroke-width="0.34">AGND</text>
<text transform="translate(437.5 20) scale(1 1.12)" font-family="Liberation Mono, monospace" font-size="6" font-weight="bold" text-anchor="start" fill="#000" stroke="#000" stroke-width="0.34">C164</text>
<rect x="439.7" y="35.4" width="9.6" height="1.8" fill="#000"/>
<text transform="translate(446.5 36.1) scale(1 1)" font-family="Liberation Sans, sans-serif" font-size="3.4" font-weight="bold" stroke="#000" stroke-width="0.4" fill="#000">uF</text>
<path d="M440.4 38.8h5.6l1.4 1.2v4.7h-7z" fill="#000"/>
<rect x="442.3" y="40" width="0.9" height="1.7" fill="#fff"/>
<rect x="444.8" y="41.6" width="0.9" height="1.9" fill="#fff"/>
<rect x="442.4" y="43.2" width="1.0" height="0.9" fill="#fff"/>
<text transform="translate(497 42) scale(1 1.12)" font-family="Liberation Mono, monospace" font-size="6" font-weight="bold" text-anchor="start" fill="#000" stroke="#000" stroke-width="0.34">R142</text>
<text transform="translate(500 55.45) scale(0.5 1)" font-family="Liberation Sans, sans-serif" font-size="6.71" font-weight="bold" stroke="#000" stroke-width="0.85" fill="#000">10.0K</text>
<text transform="translate(500.3 59.43) scale(1 1)" font-family="Liberation Sans, sans-serif" font-size="3.6" font-weight="bold" stroke="#000" stroke-width="0.5" fill="#000">1%</text>
<text transform="translate(515 52) scale(1 1.05)" font-family="Liberation Mono, monospace" font-size="3.9" font-weight="bold" text-anchor="start" fill="#000" stroke="#000" stroke-width="0.34">(????)</text>
<text transform="translate(570.8 40.1) scale(1 1.12)" font-family="Liberation Mono, monospace" font-size="6" font-weight="bold" text-anchor="start" fill="#000" stroke="#000" stroke-width="0.34">U8</text>
<text transform="translate(497 74.5) scale(1 1.12)" font-family="Liberation Mono, monospace" font-size="6" font-weight="bold" text-anchor="start" fill="#000" stroke="#000" stroke-width="0.34">R165</text>
<text transform="translate(500 88.05) scale(0.5 1)" font-family="Liberation Sans, sans-serif" font-size="6.71" font-weight="bold" stroke="#000" stroke-width="0.85" fill="#000">10.0K</text>
<text transform="translate(500.3 92.03) scale(1 1)" font-family="Liberation Sans, sans-serif" font-size="3.6" font-weight="bold" stroke="#000" stroke-width="0.5" fill="#000">1%</text>
<text transform="translate(515 84.6) scale(1 1.05)" font-family="Liberation Mono, monospace" font-size="3.9" font-weight="bold" text-anchor="start" fill="#000" stroke="#000" stroke-width="0.34">(10.0K)</text>
<text transform="translate(570.8 73) scale(1 1.12)" font-family="Liberation Mono, monospace" font-size="6" font-weight="bold" text-anchor="start" fill="#000" stroke="#000" stroke-width="0.34">U8</text>
<text transform="translate(497 105.5) scale(1 1.12)" font-family="Liberation Mono, monospace" font-size="6" font-weight="bold" text-anchor="start" fill="#000" stroke="#000" stroke-width="0.34">R149</text>
<text transform="translate(500 118.85) scale(0.5 1)" font-family="Liberation Sans, sans-serif" font-size="6.71" font-weight="bold" stroke="#000" stroke-width="0.85" fill="#000">10.0K</text>
<text transform="translate(500.3 122.83) scale(1 1)" font-family="Liberation Sans, sans-serif" font-size="3.6" font-weight="bold" stroke="#000" stroke-width="0.5" fill="#000">1%</text>
<text transform="translate(515 115.4) scale(1 1.05)" font-family="Liberation Mono, monospace" font-size="3.9" font-weight="bold" text-anchor="start" fill="#000" stroke="#000" stroke-width="0.34">(20.0K)</text>
<text transform="translate(570.8 103.5) scale(1 1.12)" font-family="Liberation Mono, monospace" font-size="6" font-weight="bold" text-anchor="start" fill="#000" stroke="#000" stroke-width="0.34">U8</text>
<text transform="translate(497 134) scale(1 1.12)" font-family="Liberation Mono, monospace" font-size="6" font-weight="bold" text-anchor="start" fill="#000" stroke="#000" stroke-width="0.34">R168</text>
<text transform="translate(500 145.45) scale(0.5 1)" font-family="Liberation Sans, sans-serif" font-size="6.71" font-weight="bold" stroke="#000" stroke-width="0.85" fill="#000">40.2K</text>
<text transform="translate(500.3 149.43) scale(1 1)" font-family="Liberation Sans, sans-serif" font-size="3.6" font-weight="bold" stroke="#000" stroke-width="0.5" fill="#000">1%</text>
<text transform="translate(741 126.6) scale(1 1.12)" font-family="Liberation Mono, monospace" font-size="6.2" font-weight="bold" text-anchor="start" fill="#000" stroke="#000" stroke-width="0.34">+12VA</text>
<text transform="translate(754 150) scale(1 1.12)" font-family="Liberation Mono, monospace" font-size="6" font-weight="bold" text-anchor="start" fill="#000" stroke="#000" stroke-width="0.34">R185</text>
<text transform="translate(754.5 159.7) scale(0.7 1)" font-family="Liberation Sans, sans-serif" font-size="7.8" font-weight="bold" stroke="#000" stroke-width="0.75" fill="#000">1</text>
<text transform="translate(757.8 159.7) scale(0.95 1)" font-family="Liberation Sans, sans-serif" font-size="4.9" font-weight="bold" stroke="#000" stroke-width="0.85" fill="#000">0HM</text>
<text transform="translate(754.8 163.9) scale(1 1)" font-family="Liberation Sans, sans-serif" font-size="3.4" font-weight="bold" stroke="#000" stroke-width="0.45" fill="#000">5%</text>
<text transform="translate(754 183.2) scale(1 1.12)" font-family="Liberation Mono, monospace" font-size="6" font-weight="bold" text-anchor="start" fill="#000" stroke="#000" stroke-width="0.34">C118</text>
<rect x="755.7" y="191.4" width="9.6" height="1.8" fill="#000"/>
<text transform="translate(762.5 192.1) scale(1 1)" font-family="Liberation Sans, sans-serif" font-size="3.4" font-weight="bold" stroke="#000" stroke-width="0.4" fill="#000">uF</text>
<path d="M756.4 194.8h5.6l1.4 1.2v4.7h-7z" fill="#000"/>
<rect x="758.3" y="196" width="0.9" height="1.7" fill="#fff"/>
<rect x="760.8" y="197.6" width="0.9" height="1.9" fill="#fff"/>
<rect x="758.4" y="199.2" width="1.0" height="0.9" fill="#fff"/>
<text transform="translate(742.5 223) scale(1 1.12)" font-family="Liberation Mono, monospace" font-size="6.2" font-weight="bold" text-anchor="start" fill="#000" stroke="#000" stroke-width="0.34">AGND</text>
<text transform="translate(716 171.6) scale(1 1.12)" font-family="Liberation Mono, monospace" font-size="6.2" font-weight="bold" text-anchor="start" fill="#000" stroke="#000" stroke-width="0.34">VCCU5</text>
<text transform="translate(25 134) scale(1 1.12)" font-family="Liberation Mono, monospace" font-size="6.2" font-weight="bold" text-anchor="start" fill="#000" stroke="#000" stroke-width="0.34">+12VA</text>
<text transform="translate(36 156) scale(1 1.12)" font-family="Liberation Mono, monospace" font-size="6" font-weight="bold" text-anchor="start" fill="#000" stroke="#000" stroke-width="0.34">R109</text>
<text transform="translate(36 197.6) scale(1 1.12)" font-family="Liberation Mono, monospace" font-size="6" font-weight="bold" text-anchor="start" fill="#000" stroke="#000" stroke-width="0.34">R128</text>
<text transform="translate(37.5 161.6) scale(1 1)" font-family="Liberation Sans, sans-serif" font-size="3.4" font-weight="bold" stroke="#000" stroke-width="0.45" fill="#000">10K</text>
<text transform="translate(37.5 166.5) scale(0.68 1)" font-family="Liberation Sans, sans-serif" font-size="5.4" font-weight="bold" stroke="#000" stroke-width="0.8" fill="#000">1/10W</text>
<text transform="translate(37.5 170.3) scale(1 1)" font-family="Liberation Sans, sans-serif" font-size="3.4" font-weight="bold" stroke="#000" stroke-width="0.45" fill="#000">1%</text>
<text transform="translate(37.5 202.8) scale(1 1)" font-family="Liberation Sans, sans-serif" font-size="3.4" font-weight="bold" stroke="#000" stroke-width="0.45" fill="#000">10K</text>
<text transform="translate(37.5 207.7) scale(0.68 1)" font-family="Liberation Sans, sans-serif" font-size="5.4" font-weight="bold" stroke="#000" stroke-width="0.8" fill="#000">1/10W</text>
<text transform="translate(37.5 211.5) scale(1 1)" font-family="Liberation Sans, sans-serif" font-size="3.4" font-weight="bold" stroke="#000" stroke-width="0.45" fill="#000">1%</text>
<text transform="translate(26 252.6) scale(1 1.12)" font-family="Liberation Mono, monospace" font-size="6.2" font-weight="bold" text-anchor="start" fill="#000" stroke="#000" stroke-width="0.34">AGND</text>
<text transform="translate(92 127.6) scale(1 1.12)" font-family="Liberation Mono, monospace" font-size="6" font-weight="bold" text-anchor="start" fill="#000" stroke="#000" stroke-width="0.34">R138</text>
<text transform="translate(95 140.7) scale(0.7 1)" font-family="Liberation Sans, sans-serif" font-size="7.8" font-weight="bold" stroke="#000" stroke-width="0.75" fill="#000">1</text>
<text transform="translate(98.3 140.7) scale(0.95 1)" font-family="Liberation Sans, sans-serif" font-size="4.9" font-weight="bold" stroke="#000" stroke-width="0.85" fill="#000">0HM</text>
<text transform="translate(95.3 144.9) scale(1 1)" font-family="Liberation Sans, sans-serif" font-size="3.4" font-weight="bold" stroke="#000" stroke-width="0.45" fill="#000">5%</text>
<text transform="translate(86 150.6) scale(1 1.12)" font-family="Liberation Mono, monospace" font-size="6.2" font-weight="bold" text-anchor="start" fill="#000" stroke="#000" stroke-width="0.34">VCCU4</text>
<text transform="translate(90.5 183.55) scale(1 1.12)" font-family="Liberation Mono, monospace" font-size="6" font-weight="bold" text-anchor="start" fill="#000" stroke="#000" stroke-width="0.34">U7</text>
<text x="105" y="188.3" font-family="Liberation Sans, sans-serif" font-size="3.9" font-weight="bold" stroke="#000" stroke-width="0.75" textLength="13" lengthAdjust="spacingAndGlyphs">LM2902</text>
<text x="102.5" y="190.9" font-family="Liberation Sans, sans-serif" font-size="3.2" font-weight="bold" stroke="#000" stroke-width="0.55" textLength="23.5" lengthAdjust="spacingAndGlyphs">14-SOIC/LM2902D</text>
<rect x="102.5" y="191.2" width="23.5" height="0.9" fill="#000"/>
<text transform="translate(87.5 252.6) scale(1 1.12)" font-family="Liberation Mono, monospace" font-size="6.2" font-weight="bold" text-anchor="start" fill="#000" stroke="#000" stroke-width="0.34">AGND</text>
<text transform="translate(67.5 203) scale(1 1.12)" font-family="Liberation Mono, monospace" font-size="6" font-weight="bold" text-anchor="start" fill="#000" stroke="#000" stroke-width="0.34">C111</text>
<rect x="70.7" y="206.4" width="9.6" height="1.8" fill="#000"/>
<text transform="translate(77.5 207.1) scale(1 1)" font-family="Liberation Sans, sans-serif" font-size="3.4" font-weight="bold" stroke="#000" stroke-width="0.4" fill="#000">uF</text>
<path d="M71.4 209.8h5.6l1.4 1.2v4.7h-7z" fill="#000"/>
<rect x="73.3" y="211" width="0.9" height="1.7" fill="#fff"/>
<rect x="75.8" y="212.6" width="0.9" height="1.9" fill="#fff"/>
<rect x="73.4" y="214.2" width="1.0" height="0.9" fill="#fff"/>
<text transform="translate(147.5 200) scale(1 1.12)" font-family="Liberation Mono, monospace" font-size="6" font-weight="bold" text-anchor="start" fill="#000" stroke="#000" stroke-width="0.34">C118</text>
<rect x="150.7" y="207.9" width="9.6" height="1.8" fill="#000"/>
<text transform="translate(157.5 208.6) scale(1 1)" font-family="Liberation Sans, sans-serif" font-size="3.4" font-weight="bold" stroke="#000" stroke-width="0.4" fill="#000">uF</text>
<path d="M151.4 211.3h5.6l1.4 1.2v4.7h-7z" fill="#000"/>
<rect x="153.3" y="212.5" width="0.9" height="1.7" fill="#fff"/>
<rect x="155.8" y="214.1" width="0.9" height="1.9" fill="#fff"/>
<rect x="153.4" y="215.7" width="1.0" height="0.9" fill="#fff"/>
<text transform="translate(137 252.6) scale(1 1.12)" font-family="Liberation Mono, monospace" font-size="6.2" font-weight="bold" text-anchor="start" fill="#000" stroke="#000" stroke-width="0.34">AGND</text>
<text transform="translate(160 159) scale(1 1.12)" font-family="Liberation Mono, monospace" font-size="6.2" font-weight="bold" text-anchor="start" fill="#000" stroke="#000" stroke-width="0.34">+5V</text>
<text transform="translate(273 204.6) scale(1 1.12)" font-family="Liberation Mono, monospace" font-size="6" font-weight="bold" text-anchor="start" fill="#000" stroke="#000" stroke-width="0.34">R160</text>
<text transform="translate(276.5 216) scale(0.5 1)" font-family="Liberation Sans, sans-serif" font-size="8.6" font-weight="bold" stroke="#000" stroke-width="0.85" fill="#000">1.00K</text>
<text transform="translate(276.8 221.1) scale(1 1)" font-family="Liberation Sans, sans-serif" font-size="3.6" font-weight="bold" stroke="#000" stroke-width="0.5" fill="#000">1%</text>
<text transform="translate(285 171) scale(1 1.12)" font-family="Liberation Mono, monospace" font-size="6" font-weight="bold" text-anchor="start" fill="#000" stroke="#000" stroke-width="0.34">C167</text>
<rect x="287.2" y="185.4" width="9.6" height="1.8" fill="#000"/>
<text transform="translate(294 186.1) scale(1 1)" font-family="Liberation Sans, sans-serif" font-size="3.4" font-weight="bold" stroke="#000" stroke-width="0.4" fill="#000">uF</text>
<path d="M287.9 188.8h5.6l1.4 1.2v4.7h-7z" fill="#000"/>
<rect x="289.8" y="190" width="0.9" height="1.7" fill="#fff"/>
<rect x="292.3" y="191.6" width="0.9" height="1.9" fill="#fff"/>
<rect x="289.9" y="193.2" width="1.0" height="0.9" fill="#fff"/>
<text transform="translate(332 187.8) scale(1 1.12)" font-family="Liberation Mono, monospace" font-size="6" font-weight="bold" text-anchor="start" fill="#000" stroke="#000" stroke-width="0.34">U166</text>
<text transform="translate(332.5 220.6) scale(1 1.12)" font-family="Liberation Mono, monospace" font-size="6.2" font-weight="bold" text-anchor="start" fill="#000" stroke="#000" stroke-width="0.34">AGND</text>
<text x="349.3" y="192.6" font-family="Liberation Sans, sans-serif" font-size="3.9" font-weight="bold" stroke="#000" stroke-width="0.75" textLength="13.5" lengthAdjust="spacingAndGlyphs">LM2902</text>
<text x="345" y="195.6" font-family="Liberation Sans, sans-serif" font-size="3.2" font-weight="bold" stroke="#000" stroke-width="0.55" textLength="27" lengthAdjust="spacingAndGlyphs">14-SOIC/LM2902D</text>
<rect x="345" y="195.9" width="27" height="0.9" fill="#000"/>
<text transform="translate(382 182) scale(1 1.12)" font-family="Liberation Mono, monospace" font-size="6" font-weight="bold" text-anchor="start" fill="#000" stroke="#000" stroke-width="0.34">R119</text>
<text transform="translate(385 196) scale(0.5 1)" font-family="Liberation Sans, sans-serif" font-size="8.6" font-weight="bold" stroke="#000" stroke-width="0.85" fill="#000">1.00K</text>
<text transform="translate(385.3 201.1) scale(1 1)" font-family="Liberation Sans, sans-serif" font-size="3.6" font-weight="bold" stroke="#000" stroke-width="0.5" fill="#000">1%</text>
<text transform="translate(416 199.6) scale(1 1.12)" font-family="Liberation Mono, monospace" font-size="6" font-weight="bold" text-anchor="start" fill="#000" stroke="#000" stroke-width="0.34">R167</text>
<text transform="translate(419.5 212) scale(0.5 1)" font-family="Liberation Sans, sans-serif" font-size="8.6" font-weight="bold" stroke="#000" stroke-width="0.85" fill="#000">1.00K</text>
<text transform="translate(419.8 217.1) scale(1 1)" font-family="Liberation Sans, sans-serif" font-size="3.6" font-weight="bold" stroke="#000" stroke-width="0.5" fill="#000">1%</text>
<text transform="translate(437.5 177) scale(1 1.12)" font-family="Liberation Mono, monospace" font-size="6" font-weight="bold" text-anchor="start" fill="#000" stroke="#000" stroke-width="0.34">C168</text>
<rect x="439.7" y="192.9" width="9.6" height="1.8" fill="#000"/>
<text transform="translate(446.5 193.6) scale(1 1)" font-family="Liberation Sans, sans-serif" font-size="3.4" font-weight="bold" stroke="#000" stroke-width="0.4" fill="#000">uF</text>
<path d="M440.4 196.3h5.6l1.4 1.2v4.7h-7z" fill="#000"/>
<rect x="442.3" y="197.5" width="0.9" height="1.7" fill="#fff"/>
<rect x="444.8" y="199.1" width="0.9" height="1.9" fill="#fff"/>
<rect x="442.4" y="200.7" width="1.0" height="0.9" fill="#fff"/>
<text transform="translate(492.5 161) scale(1 1.12)" font-family="Liberation Mono, monospace" font-size="6.2" font-weight="bold" text-anchor="start" fill="#000" stroke="#000" stroke-width="0.34">VCCU165</text>
<text transform="translate(496 194.4) scale(1 1.12)" font-family="Liberation Mono, monospace" font-size="6" font-weight="bold" text-anchor="start" fill="#000" stroke="#000" stroke-width="0.34">U165</text>
<text transform="translate(496 227.6) scale(1 1.12)" font-family="Liberation Mono, monospace" font-size="6.2" font-weight="bold" text-anchor="start" fill="#000" stroke="#000" stroke-width="0.34">AGND</text>
<text x="510.5" y="199.2" font-family="Liberation Sans, sans-serif" font-size="3.9" font-weight="bold" stroke="#000" stroke-width="0.75" textLength="13.5" lengthAdjust="spacingAndGlyphs">LM2902</text>
<text x="507" y="202.2" font-family="Liberation Sans, sans-serif" font-size="3.2" font-weight="bold" stroke="#000" stroke-width="0.55" textLength="26" lengthAdjust="spacingAndGlyphs">14-SOIC/LM2902D</text>
<rect x="507" y="202.5" width="26" height="0.9" fill="#000"/>
<text transform="translate(567 188) scale(1 1.12)" font-family="Liberation Mono, monospace" font-size="6" font-weight="bold" text-anchor="start" fill="#000" stroke="#000" stroke-width="0.34">R113</text>
<text transform="translate(570 203) scale(0.5 1)" font-family="Liberation Sans, sans-serif" font-size="8.6" font-weight="bold" stroke="#000" stroke-width="0.85" fill="#000">1.00K</text>
<text transform="translate(570.3 208.1) scale(1 1)" font-family="Liberation Sans, sans-serif" font-size="3.6" font-weight="bold" stroke="#000" stroke-width="0.5" fill="#000">1%</text>
<text transform="translate(599 206.6) scale(1 1.12)" font-family="Liberation Mono, monospace" font-size="6" font-weight="bold" text-anchor="start" fill="#000" stroke="#000" stroke-width="0.34">R165</text>
<text transform="translate(602 218.5) scale(0.5 1)" font-family="Liberation Sans, sans-serif" font-size="8.6" font-weight="bold" stroke="#000" stroke-width="0.85" fill="#000">1.00K</text>
<text transform="translate(602.3 223.6) scale(1 1)" font-family="Liberation Sans, sans-serif" font-size="3.6" font-weight="bold" stroke="#000" stroke-width="0.5" fill="#000">1%</text>
<text transform="translate(610 157) scale(1 1.12)" font-family="Liberation Mono, monospace" font-size="6" font-weight="bold" text-anchor="start" fill="#000" stroke="#000" stroke-width="0.34">C164</text>
<rect x="615" y="160.4" width="9.6" height="1.8" fill="#000"/>
<text transform="translate(621.8 161.1) scale(1 1)" font-family="Liberation Sans, sans-serif" font-size="3.4" font-weight="bold" stroke="#000" stroke-width="0.4" fill="#000">uF</text>
<path d="M615.7 163.8h5.6l1.4 1.2v4.7h-7z" fill="#000"/>
<rect x="617.6" y="165" width="0.9" height="1.7" fill="#fff"/>
<rect x="620.1" y="166.6" width="0.9" height="1.9" fill="#fff"/>
<rect x="617.7" y="168.2" width="1.0" height="0.9" fill="#fff"/>
<text transform="translate(623 183.6) scale(1 1.12)" font-family="Liberation Mono, monospace" font-size="6" font-weight="bold" text-anchor="start" fill="#000" stroke="#000" stroke-width="0.34">C169</text>
<rect x="625.2" y="198.9" width="9.6" height="1.8" fill="#000"/>
<text transform="translate(632 199.6) scale(1 1)" font-family="Liberation Sans, sans-serif" font-size="3.4" font-weight="bold" stroke="#000" stroke-width="0.4" fill="#000">uF</text>
<path d="M625.9 202.3h5.6l1.4 1.2v4.7h-7z" fill="#000"/>
<rect x="627.8" y="203.5" width="0.9" height="1.7" fill="#fff"/>
<rect x="630.3" y="205.1" width="0.9" height="1.9" fill="#fff"/>
<rect x="627.9" y="206.7" width="1.0" height="0.9" fill="#fff"/>
<text transform="translate(654.2 161) scale(1 1.12)" font-family="Liberation Mono, monospace" font-size="6" font-weight="bold" text-anchor="start" fill="#000" stroke="#000" stroke-width="0.34">R164</text>
<text transform="translate(656.5 172) scale(0.5 1)" font-family="Liberation Sans, sans-serif" font-size="8.6" font-weight="bold" stroke="#000" stroke-width="0.85" fill="#000">1.00K</text>
<text transform="translate(656.8 177.1) scale(1 1)" font-family="Liberation Sans, sans-serif" font-size="3.6" font-weight="bold" stroke="#000" stroke-width="0.5" fill="#000">1%</text>
<text transform="translate(671 201.1) scale(1 1.12)" font-family="Liberation Mono, monospace" font-size="6" font-weight="bold" text-anchor="start" fill="#000" stroke="#000" stroke-width="0.34">U5</text>
<text transform="translate(668 236.6) scale(1 1.12)" font-family="Liberation Mono, monospace" font-size="6.2" font-weight="bold" text-anchor="start" fill="#000" stroke="#000" stroke-width="0.34">AGND</text>
<text x="683.5" y="205.6" font-family="Liberation Sans, sans-serif" font-size="3.9" font-weight="bold" stroke="#000" stroke-width="0.75" textLength="13" lengthAdjust="spacingAndGlyphs">LM2902</text>
<text x="680" y="208.4" font-family="Liberation Sans, sans-serif" font-size="3.2" font-weight="bold" stroke="#000" stroke-width="0.55" textLength="24" lengthAdjust="spacingAndGlyphs">14-SOIC/LM2902D</text>
<rect x="680" y="208.7" width="24" height="0.9" fill="#000"/>
<text transform="translate(39 287.6) scale(1 1.12)" font-family="Liberation Mono, monospace" font-size="6" font-weight="bold" text-anchor="start" fill="#000" stroke="#000" stroke-width="0.34">R16</text>
<text transform="translate(39.5 300.5) scale(0.5 1)" font-family="Liberation Sans, sans-serif" font-size="8.6" font-weight="bold" stroke="#000" stroke-width="0.85" fill="#000">1.00K</text>
<text transform="translate(39.8 305.6) scale(1 1)" font-family="Liberation Sans, sans-serif" font-size="3.6" font-weight="bold" stroke="#000" stroke-width="0.5" fill="#000">1%</text>
<text transform="translate(65 309) scale(1 1.12)" font-family="Liberation Mono, monospace" font-size="6" font-weight="bold" text-anchor="start" fill="#000" stroke="#000" stroke-width="0.34">C24</text>
<rect x="65.7" y="324.4" width="9.6" height="1.8" fill="#000"/>
<text transform="translate(72.5 325.1) scale(1 1)" font-family="Liberation Sans, sans-serif" font-size="3.4" font-weight="bold" stroke="#000" stroke-width="0.4" fill="#000">uF</text>
<path d="M66.4 327.8h5.6l1.4 1.2v4.7h-7z" fill="#000"/>
<rect x="68.3" y="329" width="0.9" height="1.7" fill="#fff"/>
<rect x="70.8" y="330.6" width="0.9" height="1.9" fill="#fff"/>
<rect x="68.4" y="332.2" width="1.0" height="0.9" fill="#fff"/>
<text transform="translate(200.8 328.4) scale(1 1.12)" font-family="Liberation Mono, monospace" font-size="6" font-weight="bold" text-anchor="start" fill="#000" stroke="#000" stroke-width="0.34">U8</text>
<text transform="translate(130.5 330.6) scale(1 1.12)" font-family="Liberation Mono, monospace" font-size="6" font-weight="bold" text-anchor="start" fill="#000" stroke="#000" stroke-width="0.34">R141</text>
<text transform="translate(134.2 341.95) scale(0.5 1)" font-family="Liberation Sans, sans-serif" font-size="6.36" font-weight="bold" stroke="#000" stroke-width="0.85" fill="#000">1.00K</text>
<text transform="translate(134.5 345.72) scale(1 1)" font-family="Liberation Sans, sans-serif" font-size="3.6" font-weight="bold" stroke="#000" stroke-width="0.5" fill="#000">1%</text>
<text transform="translate(145.8 341.2) scale(0.78 1.05)" font-family="Liberation Mono, monospace" font-size="4.6" font-weight="bold" text-anchor="start" fill="#000" stroke="#000" stroke-width="0.5">(omit)</text>
<text transform="translate(132.5 353.8) scale(1 1.12)" font-family="Liberation Mono, monospace" font-size="6" font-weight="bold" text-anchor="start" fill="#000" stroke="#000" stroke-width="0.34">R22</text>
<text transform="translate(134.2 365.15) scale(0.5 1)" font-family="Liberation Sans, sans-serif" font-size="6.36" font-weight="bold" stroke="#000" stroke-width="0.85" fill="#000">1.00K</text>
<text transform="translate(134.5 368.92) scale(1 1)" font-family="Liberation Sans, sans-serif" font-size="3.6" font-weight="bold" stroke="#000" stroke-width="0.5" fill="#000">1%</text>
<text transform="translate(129 377) scale(1 1.12)" font-family="Liberation Mono, monospace" font-size="6.2" font-weight="bold" text-anchor="start" fill="#000" stroke="#000" stroke-width="0.34">VCCU4</text>
<text transform="translate(65 390.6) scale(1 1.12)" font-family="Liberation Mono, monospace" font-size="6" font-weight="bold" text-anchor="start" fill="#000" stroke="#000" stroke-width="0.34">C23</text>
<rect x="65.7" y="407.4" width="9.6" height="1.8" fill="#000"/>
<text transform="translate(72.5 408.1) scale(1 1)" font-family="Liberation Sans, sans-serif" font-size="3.4" font-weight="bold" stroke="#000" stroke-width="0.4" fill="#000">uF</text>
<path d="M66.4 410.8h5.6l1.4 1.2v4.7h-7z" fill="#000"/>
<rect x="68.3" y="412" width="0.9" height="1.7" fill="#fff"/>
<rect x="70.8" y="413.6" width="0.9" height="1.9" fill="#fff"/>
<rect x="68.4" y="415.2" width="1.0" height="0.9" fill="#fff"/>
<text transform="translate(133.5 408.8) scale(1 1.12)" font-family="Liberation Mono, monospace" font-size="6" font-weight="bold" text-anchor="start" fill="#000" stroke="#000" stroke-width="0.34">U4</text>
<text x="148.8" y="413.6" font-family="Liberation Sans, sans-serif" font-size="3.9" font-weight="bold" stroke="#000" stroke-width="0.75" textLength="13" lengthAdjust="spacingAndGlyphs">LM2902</text>
<text x="144.4" y="418" font-family="Liberation Sans, sans-serif" font-size="3.2" font-weight="bold" stroke="#000" stroke-width="0.55" textLength="23.5" lengthAdjust="spacingAndGlyphs">14-SOIC/LM2902D</text>
<rect x="144.4" y="418.3" width="23.5" height="0.9" fill="#000"/>
<text transform="translate(132.2 441.3) scale(1 1.12)" font-family="Liberation Mono, monospace" font-size="6.2" font-weight="bold" text-anchor="start" fill="#000" stroke="#000" stroke-width="0.34">AGND</text>
<text transform="translate(37 428.6) scale(1 1.12)" font-family="Liberation Mono, monospace" font-size="6" font-weight="bold" text-anchor="start" fill="#000" stroke="#000" stroke-width="0.34">R17</text>
<text transform="translate(38 440) scale(0.5 1)" font-family="Liberation Sans, sans-serif" font-size="8.6" font-weight="bold" stroke="#000" stroke-width="0.85" fill="#000">1.00K</text>
<text transform="translate(38.3 445.1) scale(1 1)" font-family="Liberation Sans, sans-serif" font-size="3.6" font-weight="bold" stroke="#000" stroke-width="0.5" fill="#000">1%</text>
<text transform="translate(68.5 442.6) scale(1 1.12)" font-family="Liberation Mono, monospace" font-size="6.2" font-weight="bold" text-anchor="start" fill="#000" stroke="#000" stroke-width="0.34">+5V</text>
<text transform="translate(345 270.6) scale(1 1.12)" font-family="Liberation Mono, monospace" font-size="6" font-weight="bold" text-anchor="start" fill="#000" stroke="#000" stroke-width="0.34">R143</text>
<text transform="translate(349.2 280.6) scale(0.66 1)" font-family="Liberation Sans, sans-serif" font-size="5.4" font-weight="bold" stroke="#000" stroke-width="0.8" fill="#000">1K</text>
<text transform="translate(349.2 286.4) scale(0.6 1)" font-family="Liberation Sans, sans-serif" font-size="5" font-weight="bold" stroke="#000" stroke-width="0.75" fill="#000">1%</text>
<text transform="translate(354 284.6) scale(0.85 1)" font-family="Liberation Sans, sans-serif" font-size="3.3" font-weight="bold" stroke="#000" stroke-width="0.5" fill="#000">1/16W</text>
<text transform="translate(316 290.4) scale(1 1.12)" font-family="Liberation Mono, monospace" font-size="6" font-weight="bold" text-anchor="start" fill="#000" stroke="#000" stroke-width="0.34">C141</text>
<text transform="translate(391 290.4) scale(1 1.12)" font-family="Liberation Mono, monospace" font-size="6" font-weight="bold" text-anchor="start" fill="#000" stroke="#000" stroke-width="0.34">C143</text>
<rect x="298.2" y="292.9" width="9.6" height="1.8" fill="#000"/>
<text transform="translate(305 293.6) scale(1 1)" font-family="Liberation Sans, sans-serif" font-size="3.4" font-weight="bold" stroke="#000" stroke-width="0.4" fill="#000">uF</text>
<path d="M298.9 296.3h5.6l1.4 1.2v4.7h-7z" fill="#000"/>
<rect x="300.8" y="297.5" width="0.9" height="1.7" fill="#fff"/>
<rect x="303.3" y="299.1" width="0.9" height="1.9" fill="#fff"/>
<rect x="300.9" y="300.7" width="1.0" height="0.9" fill="#fff"/>
<rect x="373.7" y="292.9" width="9.6" height="1.8" fill="#000"/>
<text transform="translate(380.5 293.6) scale(1 1)" font-family="Liberation Sans, sans-serif" font-size="3.4" font-weight="bold" stroke="#000" stroke-width="0.4" fill="#000">uF</text>
<path d="M374.4 296.3h5.6l1.4 1.2v4.7h-7z" fill="#000"/>
<rect x="376.3" y="297.5" width="0.9" height="1.7" fill="#fff"/>
<rect x="378.8" y="299.1" width="0.9" height="1.9" fill="#fff"/>
<rect x="376.4" y="300.7" width="1.0" height="0.9" fill="#fff"/>
<text transform="translate(344 305.6) scale(1 1.12)" font-family="Liberation Mono, monospace" font-size="6" font-weight="bold" text-anchor="start" fill="#000" stroke="#000" stroke-width="0.34">C142</text>
<rect x="345.7" y="320.4" width="9.6" height="1.8" fill="#000"/>
<text transform="translate(352.5 321.1) scale(1 1)" font-family="Liberation Sans, sans-serif" font-size="3.4" font-weight="bold" stroke="#000" stroke-width="0.4" fill="#000">uF</text>
<path d="M346.4 323.8h5.6l1.4 1.2v4.7h-7z" fill="#000"/>
<rect x="348.3" y="325" width="0.9" height="1.7" fill="#fff"/>
<rect x="350.8" y="326.6" width="0.9" height="1.9" fill="#fff"/>
<rect x="348.4" y="328.2" width="1.0" height="0.9" fill="#fff"/>
<text transform="translate(326 330.6) scale(1 1.12)" font-family="Liberation Mono, monospace" font-size="6" font-weight="bold" text-anchor="start" fill="#000" stroke="#000" stroke-width="0.34">R134</text>
<text transform="translate(361 330.6) scale(1 1.12)" font-family="Liberation Mono, monospace" font-size="6" font-weight="bold" text-anchor="start" fill="#000" stroke="#000" stroke-width="0.34">R135</text>
<text transform="translate(331.2 340.6) scale(0.66 1)" font-family="Liberation Sans, sans-serif" font-size="5.4" font-weight="bold" stroke="#000" stroke-width="0.8" fill="#000">1K</text>
<text transform="translate(331.2 346.4) scale(0.6 1)" font-family="Liberation Sans, sans-serif" font-size="5" font-weight="bold" stroke="#000" stroke-width="0.75" fill="#000">1%</text>
<text transform="translate(336 344.6) scale(0.85 1)" font-family="Liberation Sans, sans-serif" font-size="3.3" font-weight="bold" stroke="#000" stroke-width="0.5" fill="#000">1/16W</text>
<text transform="translate(366.6 340.6) scale(0.66 1)" font-family="Liberation Sans, sans-serif" font-size="5.4" font-weight="bold" stroke="#000" stroke-width="0.8" fill="#000">1K</text>
<text transform="translate(366.6 346.4) scale(0.6 1)" font-family="Liberation Sans, sans-serif" font-size="5" font-weight="bold" stroke="#000" stroke-width="0.75" fill="#000">1%</text>
<text transform="translate(371.4 344.6) scale(0.85 1)" font-family="Liberation Sans, sans-serif" font-size="3.3" font-weight="bold" stroke="#000" stroke-width="0.5" fill="#000">1/16W</text>
<text transform="translate(345 361) scale(1 1.12)" font-family="Liberation Mono, monospace" font-size="6.2" font-weight="bold" text-anchor="start" fill="#000" stroke="#000" stroke-width="0.34">AGND</text>
<text transform="translate(257 402.1) scale(1 1.12)" font-family="Liberation Mono, monospace" font-size="6" font-weight="bold" text-anchor="start" fill="#000" stroke="#000" stroke-width="0.34">R152</text>
<text transform="translate(262.7 412.8) scale(0.66 1)" font-family="Liberation Sans, sans-serif" font-size="5.4" font-weight="bold" stroke="#000" stroke-width="0.8" fill="#000">1K</text>
<text transform="translate(262.7 418.6) scale(0.6 1)" font-family="Liberation Sans, sans-serif" font-size="5" font-weight="bold" stroke="#000" stroke-width="0.75" fill="#000">1%</text>
<text transform="translate(267.5 416.8) scale(0.85 1)" font-family="Liberation Sans, sans-serif" font-size="3.3" font-weight="bold" stroke="#000" stroke-width="0.5" fill="#000">1/16W</text>
<text transform="translate(229.5 420.5) scale(1 1.12)" font-family="Liberation Mono, monospace" font-size="6" font-weight="bold" text-anchor="start" fill="#000" stroke="#000" stroke-width="0.34">C144</text>
<text transform="translate(303.2 420.5) scale(1 1.12)" font-family="Liberation Mono, monospace" font-size="6" font-weight="bold" text-anchor="start" fill="#000" stroke="#000" stroke-width="0.34">C148</text>
<rect x="210.2" y="422.4" width="9.6" height="1.8" fill="#000"/>
<text transform="translate(217 423.1) scale(1 1)" font-family="Liberation Sans, sans-serif" font-size="3.4" font-weight="bold" stroke="#000" stroke-width="0.4" fill="#000">uF</text>
<path d="M210.9 425.8h5.6l1.4 1.2v4.7h-7z" fill="#000"/>
<rect x="212.8" y="427" width="0.9" height="1.7" fill="#fff"/>
<rect x="215.3" y="428.6" width="0.9" height="1.9" fill="#fff"/>
<rect x="212.9" y="430.2" width="1.0" height="0.9" fill="#fff"/>
<rect x="284.7" y="422.4" width="9.6" height="1.8" fill="#000"/>
<text transform="translate(291.5 423.1) scale(1 1)" font-family="Liberation Sans, sans-serif" font-size="3.4" font-weight="bold" stroke="#000" stroke-width="0.4" fill="#000">uF</text>
<path d="M285.4 425.8h5.6l1.4 1.2v4.7h-7z" fill="#000"/>
<rect x="287.3" y="427" width="0.9" height="1.7" fill="#fff"/>
<rect x="289.8" y="428.6" width="0.9" height="1.9" fill="#fff"/>
<rect x="287.4" y="430.2" width="1.0" height="0.9" fill="#fff"/>
<text transform="translate(257 435.4) scale(1 1.12)" font-family="Liberation Mono, monospace" font-size="6" font-weight="bold" text-anchor="start" fill="#000" stroke="#000" stroke-width="0.34">C146</text>
<rect x="258.7" y="449.4" width="9.6" height="1.8" fill="#000"/>
<text transform="translate(265.5 450.1) scale(1 1)" font-family="Liberation Sans, sans-serif" font-size="3.4" font-weight="bold" stroke="#000" stroke-width="0.4" fill="#000">uF</text>
<path d="M259.4 452.8h5.6l1.4 1.2v4.7h-7z" fill="#000"/>
<rect x="261.3" y="454" width="0.9" height="1.7" fill="#fff"/>
<rect x="263.8" y="455.6" width="0.9" height="1.9" fill="#fff"/>
<rect x="261.4" y="457.2" width="1.0" height="0.9" fill="#fff"/>
<text transform="translate(238 462) scale(1 1.12)" font-family="Liberation Mono, monospace" font-size="6" font-weight="bold" text-anchor="start" fill="#000" stroke="#000" stroke-width="0.34">R186</text>
<text transform="translate(273 462) scale(1 1.12)" font-family="Liberation Mono, monospace" font-size="6" font-weight="bold" text-anchor="start" fill="#000" stroke="#000" stroke-width="0.34">R187</text>
<text transform="translate(243.7 472.2) scale(0.66 1)" font-family="Liberation Sans, sans-serif" font-size="5.4" font-weight="bold" stroke="#000" stroke-width="0.8" fill="#000">1K</text>
<text transform="translate(243.7 478) scale(0.6 1)" font-family="Liberation Sans, sans-serif" font-size="5" font-weight="bold" stroke="#000" stroke-width="0.75" fill="#000">1%</text>
<text transform="translate(248.5 476.2) scale(0.85 1)" font-family="Liberation Sans, sans-serif" font-size="3.3" font-weight="bold" stroke="#000" stroke-width="0.5" fill="#000">1/16W</text>
<text transform="translate(278.7 472.2) scale(0.66 1)" font-family="Liberation Sans, sans-serif" font-size="5.4" font-weight="bold" stroke="#000" stroke-width="0.8" fill="#000">1K</text>
<text transform="translate(278.7 478) scale(0.6 1)" font-family="Liberation Sans, sans-serif" font-size="5" font-weight="bold" stroke="#000" stroke-width="0.75" fill="#000">1%</text>
<text transform="translate(283.5 476.2) scale(0.85 1)" font-family="Liberation Sans, sans-serif" font-size="3.3" font-weight="bold" stroke="#000" stroke-width="0.5" fill="#000">1/16W</text>
<text transform="translate(258 483.4) scale(1 1.12)" font-family="Liberation Mono, monospace" font-size="6.2" font-weight="bold" text-anchor="start" fill="#000" stroke="#000" stroke-width="0.34">AGND</text>
<text transform="translate(351 394.8) scale(1 1.12)" font-family="Liberation Mono, monospace" font-size="6" font-weight="bold" text-anchor="start" fill="#000" stroke="#000" stroke-width="0.34">C29</text>
<rect x="351.2" y="411.9" width="9.6" height="1.8" fill="#000"/>
<text transform="translate(358 412.6) scale(1 1)" font-family="Liberation Sans, sans-serif" font-size="3.4" font-weight="bold" stroke="#000" stroke-width="0.4" fill="#000">uF</text>
<path d="M351.9 415.3h5.6l1.4 1.2v4.7h-7z" fill="#000"/>
<rect x="353.8" y="416.5" width="0.9" height="1.7" fill="#fff"/>
<rect x="356.3" y="418.1" width="0.9" height="1.9" fill="#fff"/>
<rect x="353.9" y="419.7" width="1.0" height="0.9" fill="#fff"/>
<text transform="translate(75.2 501.9) scale(0.82 0.98)" font-family="Liberation Mono, monospace" font-size="5.8" font-weight="bold" text-anchor="start" fill="#000" stroke="#000" stroke-width="0.7">TXCK</text>
<text transform="translate(230 499) scale(1 1.12)" font-family="Liberation Mono, monospace" font-size="6" font-weight="bold" text-anchor="start" fill="#000" stroke="#000" stroke-width="0.34">R33</text>
<text transform="translate(288 499) scale(1 1.12)" font-family="Liberation Mono, monospace" font-size="6" font-weight="bold" text-anchor="start" fill="#000" stroke="#000" stroke-width="0.34">R34</text>
<text transform="translate(230 511.6) scale(1 1)" font-family="Liberation Mono, monospace" font-size="5" font-weight="bold" text-anchor="start" fill="#000" stroke="#000" stroke-width="0.34">1</text>
<text transform="translate(233.5 509.2) scale(1 1)" font-family="Liberation Mono, monospace" font-size="3.8" font-weight="bold" text-anchor="start" fill="#000" stroke="#000" stroke-width="0.34">1/16</text>
<text transform="translate(245 509.2) scale(1 1)" font-family="Liberation Mono, monospace" font-size="3.8" font-weight="bold" text-anchor="start" fill="#000" stroke="#000" stroke-width="0.34">1/4W</text>
<text transform="translate(288 511.6) scale(1 1)" font-family="Liberation Mono, monospace" font-size="5" font-weight="bold" text-anchor="start" fill="#000" stroke="#000" stroke-width="0.34">1</text>
<text transform="translate(291.5 509.2) scale(1 1)" font-family="Liberation Mono, monospace" font-size="3.8" font-weight="bold" text-anchor="start" fill="#000" stroke="#000" stroke-width="0.34">1/16</text>
<text transform="translate(303 509.2) scale(1 1)" font-family="Liberation Mono, monospace" font-size="3.8" font-weight="bold" text-anchor="start" fill="#000" stroke="#000" stroke-width="0.34">1/4W</text>
<text transform="translate(268.8 518.8) scale(1 1.12)" font-family="Liberation Mono, monospace" font-size="6" font-weight="bold" text-anchor="start" fill="#000" stroke="#000" stroke-width="0.34">C49</text>
<rect x="271.2" y="522.9" width="9.6" height="1.8" fill="#000"/>
<text transform="translate(278 523.6) scale(1 1)" font-family="Liberation Sans, sans-serif" font-size="3.4" font-weight="bold" stroke="#000" stroke-width="0.4" fill="#000">uF</text>
<path d="M271.9 526.3h5.6l1.4 1.2v4.7h-7z" fill="#000"/>
<rect x="273.8" y="527.5" width="0.9" height="1.7" fill="#fff"/>
<rect x="276.3" y="529.1" width="0.9" height="1.9" fill="#fff"/>
<rect x="273.9" y="530.7" width="1.0" height="0.9" fill="#fff"/>
<text transform="translate(330.8 522.5) scale(1 1.12)" font-family="Liberation Mono, monospace" font-size="6" font-weight="bold" text-anchor="start" fill="#000" stroke="#000" stroke-width="0.34">C39</text>
<rect x="333.7" y="525.9" width="9.6" height="1.8" fill="#000"/>
<text transform="translate(340.5 526.6) scale(1 1)" font-family="Liberation Sans, sans-serif" font-size="3.4" font-weight="bold" stroke="#000" stroke-width="0.4" fill="#000">uF</text>
<path d="M334.4 529.3h5.6l1.4 1.2v4.7h-7z" fill="#000"/>
<rect x="336.3" y="530.5" width="0.9" height="1.7" fill="#fff"/>
<rect x="338.8" y="532.1" width="0.9" height="1.9" fill="#fff"/>
<rect x="336.4" y="533.7" width="1.0" height="0.9" fill="#fff"/>
<text transform="translate(268.8 559.4) scale(1 1.12)" font-family="Liberation Mono, monospace" font-size="5.6" font-weight="bold" text-anchor="start" fill="#000" stroke="#000" stroke-width="0.34">L3</text>
<text transform="translate(268.8 565.2) scale(0.8 1)" font-family="Liberation Sans, sans-serif" font-size="5" font-weight="bold" stroke="#000" stroke-width="0.4" fill="#000">10uH</text>
<text transform="translate(257 595.4) scale(1 1.12)" font-family="Liberation Mono, monospace" font-size="6.2" font-weight="bold" text-anchor="start" fill="#000" stroke="#000" stroke-width="0.34">AGND</text>
<text transform="translate(350.8 492.2) scale(1 1.12)" font-family="Liberation Mono, monospace" font-size="6" font-weight="bold" text-anchor="start" fill="#000" stroke="#000" stroke-width="0.34">C38</text>
<text transform="translate(352 512.3) scale(1 1)" font-family="Liberation Sans, sans-serif" font-size="3.4" font-weight="bold" stroke="#000" stroke-width="0.45" fill="#000">.01uF</text>
<text transform="translate(352 517.2) scale(0.68 1)" font-family="Liberation Sans, sans-serif" font-size="5.4" font-weight="bold" stroke="#000" stroke-width="0.8" fill="#000">100V</text>
<text transform="translate(352 521) scale(1 1)" font-family="Liberation Sans, sans-serif" font-size="3.4" font-weight="bold" stroke="#000" stroke-width="0.45" fill="#000">5%</text>
<text transform="translate(373 485.8) scale(1 1.12)" font-family="Liberation Mono, monospace" font-size="6" font-weight="bold" text-anchor="start" fill="#000" stroke="#000" stroke-width="0.34">TP13</text>
<text transform="translate(420.8 470) scale(1 1.12)" font-family="Liberation Mono, monospace" font-size="6" font-weight="bold" text-anchor="start" fill="#000" stroke="#000" stroke-width="0.34">U9</text>
<text transform="translate(418.5 551) scale(1 1.12)" font-family="Liberation Mono, monospace" font-size="6.2" font-weight="bold" text-anchor="start" fill="#000" stroke="#000" stroke-width="0.34">AGND</text>
<text transform="translate(441.2 519.8) scale(1 1.12)" font-family="Liberation Mono, monospace" font-size="6" font-weight="bold" text-anchor="start" fill="#000" stroke="#000" stroke-width="0.34">D147</text>
<text transform="translate(443.8 543) scale(0.5 1)" font-family="Liberation Sans, sans-serif" font-size="8.6" font-weight="bold" stroke="#000" stroke-width="0.85" fill="#000">.001uF</text>
<text transform="translate(444.1 548.1) scale(1 1)" font-family="Liberation Sans, sans-serif" font-size="3.6" font-weight="bold" stroke="#000" stroke-width="0.5" fill="#000">5%</text>
<text transform="translate(448.6 570.6) scale(1 1.12)" font-family="Liberation Mono, monospace" font-size="6.6" font-weight="bold" text-anchor="start" fill="#000" stroke="#000" stroke-width="0.5">3</text>
<text transform="translate(482.5 543.8) scale(1 1.12)" font-family="Liberation Mono, monospace" font-size="6" font-weight="bold" text-anchor="start" fill="#000" stroke="#000" stroke-width="0.34">C93</text>
<rect x="483.7" y="551.9" width="9.6" height="1.8" fill="#000"/>
<text transform="translate(490.5 552.6) scale(1 1)" font-family="Liberation Sans, sans-serif" font-size="3.4" font-weight="bold" stroke="#000" stroke-width="0.4" fill="#000">uF</text>
<path d="M484.4 555.3h5.6l1.4 1.2v4.7h-7z" fill="#000"/>
<rect x="486.3" y="556.5" width="0.9" height="1.7" fill="#fff"/>
<rect x="488.8" y="558.1" width="0.9" height="1.9" fill="#fff"/>
<rect x="486.4" y="559.7" width="1.0" height="0.9" fill="#fff"/>
<text transform="translate(470 586.8) scale(1 1.12)" font-family="Liberation Mono, monospace" font-size="6.2" font-weight="bold" text-anchor="start" fill="#000" stroke="#000" stroke-width="0.34">AGND</text>
<text transform="translate(405 544.4) scale(1 1.12)" font-family="Liberation Mono, monospace" font-size="6" font-weight="bold" text-anchor="start" fill="#000" stroke="#000" stroke-width="0.34">C91</text>
<rect x="383.2" y="547.4" width="9.6" height="1.8" fill="#000"/>
<text transform="translate(390 548.1) scale(1 1)" font-family="Liberation Sans, sans-serif" font-size="3.4" font-weight="bold" stroke="#000" stroke-width="0.4" fill="#000">uF</text>
<path d="M383.9 550.8h5.6l1.4 1.2v4.7h-7z" fill="#000"/>
<rect x="385.8" y="552" width="0.9" height="1.7" fill="#fff"/>
<rect x="388.3" y="553.6" width="0.9" height="1.9" fill="#fff"/>
<rect x="385.9" y="555.2" width="1.0" height="0.9" fill="#fff"/>
<text transform="translate(392 586.8) scale(1 1.12)" font-family="Liberation Mono, monospace" font-size="6.2" font-weight="bold" text-anchor="start" fill="#000" stroke="#000" stroke-width="0.34">AGND</text>
<text transform="translate(482.5 328.2) scale(1 1.12)" font-family="Liberation Mono, monospace" font-size="6" font-weight="bold" text-anchor="start" fill="#000" stroke="#000" stroke-width="0.34">R25</text>
<text transform="translate(482.5 336.7) scale(0.7 1)" font-family="Liberation Sans, sans-serif" font-size="7.8" font-weight="bold" stroke="#000" stroke-width="0.75" fill="#000">1</text>
<text transform="translate(485.8 336.7) scale(0.95 1)" font-family="Liberation Sans, sans-serif" font-size="4.9" font-weight="bold" stroke="#000" stroke-width="0.85" fill="#000">0HM</text>
<text transform="translate(482.8 340.9) scale(1 1)" font-family="Liberation Sans, sans-serif" font-size="3.4" font-weight="bold" stroke="#000" stroke-width="0.45" fill="#000">5%</text>
<text transform="translate(480 370.2) scale(1 1.12)" font-family="Liberation Mono, monospace" font-size="6" font-weight="bold" text-anchor="start" fill="#000" stroke="#000" stroke-width="0.34">R30</text>
<text transform="translate(481 374.8) scale(1 1)" font-family="Liberation Sans, sans-serif" font-size="3.4" font-weight="bold" stroke="#000" stroke-width="0.45" fill="#000">10</text>
<text transform="translate(481 379.7) scale(0.68 1)" font-family="Liberation Sans, sans-serif" font-size="5.4" font-weight="bold" stroke="#000" stroke-width="0.8" fill="#000">1/10W</text>
<text transform="translate(481 383.5) scale(1 1)" font-family="Liberation Sans, sans-serif" font-size="3.4" font-weight="bold" stroke="#000" stroke-width="0.45" fill="#000">5%</text>
<text transform="translate(500 370.2) scale(1 1.12)" font-family="Liberation Mono, monospace" font-size="6" font-weight="bold" text-anchor="start" fill="#000" stroke="#000" stroke-width="0.34">C9</text>
<text transform="translate(507.6 371.4) scale(1 1)" font-family="Liberation Mono, monospace" font-size="4.4" font-weight="bold" text-anchor="start" fill="#000" stroke="#000" stroke-width="0.34">+</text>
<rect x="499.7" y="374.4" width="9.6" height="1.8" fill="#000"/>
<text transform="translate(506.5 375.1) scale(1 1)" font-family="Liberation Sans, sans-serif" font-size="3.4" font-weight="bold" stroke="#000" stroke-width="0.4" fill="#000">uF</text>
<path d="M500.4 377.8h5.6l1.4 1.2v4.7h-7z" fill="#000"/>
<rect x="502.3" y="379" width="0.9" height="1.7" fill="#fff"/>
<rect x="504.8" y="380.6" width="0.9" height="1.9" fill="#fff"/>
<rect x="502.4" y="382.2" width="1.0" height="0.9" fill="#fff"/>
<text transform="translate(507 405) scale(1 1.12)" font-family="Liberation Mono, monospace" font-size="6.2" font-weight="bold" text-anchor="start" fill="#000" stroke="#000" stroke-width="0.34">AGND</text>
<text transform="translate(455.5 418.4) scale(1 1.12)" font-family="Liberation Mono, monospace" font-size="6.2" font-weight="bold" text-anchor="start" fill="#000" stroke="#000" stroke-width="0.34">VCCU8</text>
<text transform="translate(437 427) scale(1 1.12)" font-family="Liberation Mono, monospace" font-size="6" font-weight="bold" text-anchor="start" fill="#000" stroke="#000" stroke-width="0.34">C20</text>
<rect x="436.7" y="433.4" width="9.6" height="1.8" fill="#000"/>
<text transform="translate(443.5 434.1) scale(1 1)" font-family="Liberation Sans, sans-serif" font-size="3.4" font-weight="bold" stroke="#000" stroke-width="0.4" fill="#000">uF</text>
<path d="M437.4 436.8h5.6l1.4 1.2v4.7h-7z" fill="#000"/>
<rect x="439.3" y="438" width="0.9" height="1.7" fill="#fff"/>
<rect x="441.8" y="439.6" width="0.9" height="1.9" fill="#fff"/>
<rect x="439.4" y="441.2" width="1.0" height="0.9" fill="#fff"/>
<text transform="translate(445 468) scale(1 1.12)" font-family="Liberation Mono, monospace" font-size="6.2" font-weight="bold" text-anchor="start" fill="#000" stroke="#000" stroke-width="0.34">AGND</text>
<text transform="translate(513.8 443.8) scale(1 1.12)" font-family="Liberation Mono, monospace" font-size="6" font-weight="bold" text-anchor="start" fill="#000" stroke="#000" stroke-width="0.34">R32</text>
<text transform="translate(514.5 453.3) scale(1 1)" font-family="Liberation Sans, sans-serif" font-size="3.4" font-weight="bold" stroke="#000" stroke-width="0.45" fill="#000">4.99K</text>
<text transform="translate(514.5 458.2) scale(0.68 1)" font-family="Liberation Sans, sans-serif" font-size="5.4" font-weight="bold" stroke="#000" stroke-width="0.8" fill="#000">1/16W</text>
<text transform="translate(514.5 462) scale(1 1)" font-family="Liberation Sans, sans-serif" font-size="3.4" font-weight="bold" stroke="#000" stroke-width="0.45" fill="#000">1%</text>
<text transform="translate(515 526) scale(1 1.12)" font-family="Liberation Mono, monospace" font-size="6" font-weight="bold" text-anchor="start" fill="#000" stroke="#000" stroke-width="0.34">R35</text>
<text transform="translate(516.5 541) scale(0.5 1)" font-family="Liberation Sans, sans-serif" font-size="8.6" font-weight="bold" stroke="#000" stroke-width="0.85" fill="#000">1.00K</text>
<text transform="translate(516.8 546.1) scale(1 1)" font-family="Liberation Sans, sans-serif" font-size="3.6" font-weight="bold" stroke="#000" stroke-width="0.5" fill="#000">1%</text>
<text transform="translate(559 401.6) scale(1 1.12)" font-family="Liberation Mono, monospace" font-size="6" font-weight="bold" text-anchor="start" fill="#000" stroke="#000" stroke-width="0.34">R31</text>
<text transform="translate(560 417) scale(0.5 1)" font-family="Liberation Sans, sans-serif" font-size="8.6" font-weight="bold" stroke="#000" stroke-width="0.85" fill="#000">1.00K</text>
<text transform="translate(560.3 422.1) scale(1 1)" font-family="Liberation Sans, sans-serif" font-size="3.6" font-weight="bold" stroke="#000" stroke-width="0.5" fill="#000">1%</text>
<text transform="translate(571 425.8) scale(1 1.12)" font-family="Liberation Mono, monospace" font-size="6" font-weight="bold" text-anchor="start" fill="#000" stroke="#000" stroke-width="0.34">C30</text>
<rect x="571" y="429.4" width="9.6" height="1.8" fill="#000"/>
<text transform="translate(577.8 430.1) scale(1 1)" font-family="Liberation Sans, sans-serif" font-size="3.4" font-weight="bold" stroke="#000" stroke-width="0.4" fill="#000">uF</text>
<path d="M571.7 432.8h5.6l1.4 1.2v4.7h-7z" fill="#000"/>
<rect x="573.6" y="434" width="0.9" height="1.7" fill="#fff"/>
<rect x="576.1" y="435.6" width="0.9" height="1.9" fill="#fff"/>
<rect x="573.7" y="437.2" width="1.0" height="0.9" fill="#fff"/>
<text transform="translate(571.8 462) scale(1 1.12)" font-family="Liberation Mono, monospace" font-size="6" font-weight="bold" text-anchor="start" fill="#000" stroke="#000" stroke-width="0.34">R29</text>
<text transform="translate(572 472) scale(0.5 1)" font-family="Liberation Sans, sans-serif" font-size="8.6" font-weight="bold" stroke="#000" stroke-width="0.85" fill="#000">1.00K</text>
<text transform="translate(572.3 477.1) scale(1 1)" font-family="Liberation Sans, sans-serif" font-size="3.6" font-weight="bold" stroke="#000" stroke-width="0.5" fill="#000">1%</text>
<text transform="translate(560 482) scale(1 1.12)" font-family="Liberation Mono, monospace" font-size="6" font-weight="bold" text-anchor="start" fill="#000" stroke="#000" stroke-width="0.34">C32</text>
<rect x="560.2" y="496.9" width="9.6" height="1.8" fill="#000"/>
<text transform="translate(567 497.6) scale(1 1)" font-family="Liberation Sans, sans-serif" font-size="3.4" font-weight="bold" stroke="#000" stroke-width="0.4" fill="#000">uF</text>
<path d="M560.9 500.3h5.6l1.4 1.2v4.7h-7z" fill="#000"/>
<rect x="562.8" y="501.5" width="0.9" height="1.7" fill="#fff"/>
<rect x="565.3" y="503.1" width="0.9" height="1.9" fill="#fff"/>
<rect x="562.9" y="504.7" width="1.0" height="0.9" fill="#fff"/>
<text transform="translate(617 425.8) scale(1 1.12)" font-family="Liberation Mono, monospace" font-size="6" font-weight="bold" text-anchor="start" fill="#000" stroke="#000" stroke-width="0.34">C31</text>
<rect x="619.7" y="429.4" width="9.6" height="1.8" fill="#000"/>
<text transform="translate(626.5 430.1) scale(1 1)" font-family="Liberation Sans, sans-serif" font-size="3.4" font-weight="bold" stroke="#000" stroke-width="0.4" fill="#000">uF</text>
<path d="M620.4 432.8h5.6l1.4 1.2v4.7h-7z" fill="#000"/>
<rect x="622.3" y="434" width="0.9" height="1.7" fill="#fff"/>
<rect x="624.8" y="435.6" width="0.9" height="1.9" fill="#fff"/>
<rect x="622.4" y="437.2" width="1.0" height="0.9" fill="#fff"/>
<text transform="translate(616 460.4) scale(1 1.12)" font-family="Liberation Mono, monospace" font-size="6" font-weight="bold" text-anchor="start" fill="#000" stroke="#000" stroke-width="0.34">R28</text>
<text transform="translate(617.5 471) scale(0.5 1)" font-family="Liberation Sans, sans-serif" font-size="8.6" font-weight="bold" stroke="#000" stroke-width="0.85" fill="#000">1.00K</text>
<text transform="translate(617.8 476.1) scale(1 1)" font-family="Liberation Sans, sans-serif" font-size="3.6" font-weight="bold" stroke="#000" stroke-width="0.5" fill="#000">1%</text>
<text transform="translate(628.2 401.2) scale(1 1.12)" font-family="Liberation Mono, monospace" font-size="6" font-weight="bold" text-anchor="start" fill="#000" stroke="#000" stroke-width="0.34">R23</text>
<text transform="translate(629 417) scale(0.5 1)" font-family="Liberation Sans, sans-serif" font-size="8.6" font-weight="bold" stroke="#000" stroke-width="0.85" fill="#000">1.00K</text>
<text transform="translate(629.3 422.1) scale(1 1)" font-family="Liberation Sans, sans-serif" font-size="3.6" font-weight="bold" stroke="#000" stroke-width="0.5" fill="#000">1%</text>
<text transform="translate(629 482) scale(1 1.12)" font-family="Liberation Mono, monospace" font-size="6" font-weight="bold" text-anchor="start" fill="#000" stroke="#000" stroke-width="0.34">C37</text>
<rect x="629.2" y="496.9" width="9.6" height="1.8" fill="#000"/>
<text transform="translate(636 497.6) scale(1 1)" font-family="Liberation Sans, sans-serif" font-size="3.4" font-weight="bold" stroke="#000" stroke-width="0.4" fill="#000">uF</text>
<path d="M629.9 500.3h5.6l1.4 1.2v4.7h-7z" fill="#000"/>
<rect x="631.8" y="501.5" width="0.9" height="1.7" fill="#fff"/>
<rect x="634.3" y="503.1" width="0.9" height="1.9" fill="#fff"/>
<rect x="631.9" y="504.7" width="1.0" height="0.9" fill="#fff"/>
<text transform="translate(711 443.6) scale(1 1.12)" font-family="Liberation Mono, monospace" font-size="6" font-weight="bold" text-anchor="start" fill="#000" stroke="#000" stroke-width="0.34">R21</text>
<text transform="translate(712 459) scale(0.5 1)" font-family="Liberation Sans, sans-serif" font-size="8.6" font-weight="bold" stroke="#000" stroke-width="0.85" fill="#000">10.0K</text>
<text transform="translate(712.3 464.1) scale(1 1)" font-family="Liberation Sans, sans-serif" font-size="3.6" font-weight="bold" stroke="#000" stroke-width="0.5" fill="#000">1%</text>
<text transform="translate(696.3 486.45) scale(1 1.12)" font-family="Liberation Mono, monospace" font-size="6" font-weight="bold" text-anchor="start" fill="#000" stroke="#000" stroke-width="0.34">U7</text>
<text transform="translate(694 521) scale(1 1.12)" font-family="Liberation Mono, monospace" font-size="6.2" font-weight="bold" text-anchor="start" fill="#000" stroke="#000" stroke-width="0.34">AGND</text>
<text x="708" y="491.2" font-family="Liberation Sans, sans-serif" font-size="3.9" font-weight="bold" stroke="#000" stroke-width="0.75" textLength="13" lengthAdjust="spacingAndGlyphs">LM2902</text>
<text x="704" y="494.4" font-family="Liberation Sans, sans-serif" font-size="3.2" font-weight="bold" stroke="#000" stroke-width="0.55" textLength="24" lengthAdjust="spacingAndGlyphs">14-SOIC/LM2902D</text>
<rect x="704" y="494.7" width="24" height="0.9" fill="#000"/>
<text transform="translate(679 417.4) scale(1 1.12)" font-family="Liberation Mono, monospace" font-size="6.2" font-weight="bold" text-anchor="start" fill="#000" stroke="#000" stroke-width="0.34">2</text>
<text transform="translate(738.5 512.6) scale(1 1.12)" font-family="Liberation Mono, monospace" font-size="6" font-weight="bold" text-anchor="start" fill="#000" stroke="#000" stroke-width="0.34">R20</text>
<text transform="translate(740.5 518.3) scale(1 1)" font-family="Liberation Sans, sans-serif" font-size="3.4" font-weight="bold" stroke="#000" stroke-width="0.45" fill="#000">10</text>
<text transform="translate(740.5 523.2) scale(0.68 1)" font-family="Liberation Sans, sans-serif" font-size="5.4" font-weight="bold" stroke="#000" stroke-width="0.8" fill="#000">1/10W</text>
<text transform="translate(740.5 527) scale(1 1)" font-family="Liberation Sans, sans-serif" font-size="3.4" font-weight="bold" stroke="#000" stroke-width="0.45" fill="#000">5%</text>
<text transform="translate(759 523.2) scale(1 1.12)" font-family="Liberation Mono, monospace" font-size="6" font-weight="bold" text-anchor="start" fill="#000" stroke="#000" stroke-width="0.34">TP12</text>
<text transform="translate(773.3 537) scale(1 1.12)" font-family="Liberation Mono, monospace" font-size="6.2" font-weight="bold" text-anchor="start" fill="#000" stroke="#000" stroke-width="0.34">DATA</text>
<text transform="translate(739.2 548.9) scale(1 1.12)" font-family="Liberation Mono, monospace" font-size="6" font-weight="bold" text-anchor="start" fill="#000" stroke="#000" stroke-width="0.34">R15</text>
<text transform="translate(740.5 553.8) scale(1 1)" font-family="Liberation Sans, sans-serif" font-size="3.4" font-weight="bold" stroke="#000" stroke-width="0.45" fill="#000">10</text>
<text transform="translate(740.5 558.7) scale(0.68 1)" font-family="Liberation Sans, sans-serif" font-size="5.4" font-weight="bold" stroke="#000" stroke-width="0.8" fill="#000">1/10W</text>
<text transform="translate(740.5 562.5) scale(1 1)" font-family="Liberation Sans, sans-serif" font-size="3.4" font-weight="bold" stroke="#000" stroke-width="0.45" fill="#000">5%</text>
<text transform="translate(729 589.4) scale(1 1.12)" font-family="Liberation Mono, monospace" font-size="6.2" font-weight="bold" text-anchor="start" fill="#000" stroke="#000" stroke-width="0.34">AGND</text>
<text transform="translate(730 239.6) scale(1 1.12)" font-family="Liberation Mono, monospace" font-size="6.2" font-weight="bold" text-anchor="start" fill="#000" stroke="#000" stroke-width="0.34">+12V</text>
<text transform="translate(742.8 270.6) scale(1 1.12)" font-family="Liberation Mono, monospace" font-size="6" font-weight="bold" text-anchor="start" fill="#000" stroke="#000" stroke-width="0.34">R18</text>
<text transform="translate(743 275.4) scale(1 1)" font-family="Liberation Sans, sans-serif" font-size="3.4" font-weight="bold" stroke="#000" stroke-width="0.45" fill="#000">10</text>
<text transform="translate(743 280.3) scale(0.68 1)" font-family="Liberation Sans, sans-serif" font-size="5.4" font-weight="bold" stroke="#000" stroke-width="0.8" fill="#000">1/10W</text>
<text transform="translate(743 284.1) scale(1 1)" font-family="Liberation Sans, sans-serif" font-size="3.4" font-weight="bold" stroke="#000" stroke-width="0.45" fill="#000">5%</text>
<text transform="translate(743.2 310.4) scale(1 1.12)" font-family="Liberation Mono, monospace" font-size="6" font-weight="bold" text-anchor="start" fill="#000" stroke="#000" stroke-width="0.34">C25</text>
<rect x="743.7" y="318.9" width="9.6" height="1.8" fill="#000"/>
<text transform="translate(750.5 319.6) scale(1 1)" font-family="Liberation Sans, sans-serif" font-size="3.4" font-weight="bold" stroke="#000" stroke-width="0.4" fill="#000">uF</text>
<path d="M744.4 322.3h5.6l1.4 1.2v4.7h-7z" fill="#000"/>
<rect x="746.3" y="323.5" width="0.9" height="1.7" fill="#fff"/>
<rect x="748.8" y="325.1" width="0.9" height="1.9" fill="#fff"/>
<rect x="746.4" y="326.7" width="1.0" height="0.9" fill="#fff"/>
<text transform="translate(730 350.4) scale(1 1.12)" font-family="Liberation Mono, monospace" font-size="6.2" font-weight="bold" text-anchor="start" fill="#000" stroke="#000" stroke-width="0.34">AGND</text>
<text transform="translate(770 294) scale(1 1.12)" font-family="Liberation Mono, monospace" font-size="6" font-weight="bold" text-anchor="start" fill="#000" stroke="#000" stroke-width="0.34">R102</text>
<text transform="translate(773.5 307.7) scale(0.7 1)" font-family="Liberation Sans, sans-serif" font-size="7.8" font-weight="bold" stroke="#000" stroke-width="0.75" fill="#000">1</text>
<text transform="translate(776.8 307.7) scale(0.95 1)" font-family="Liberation Sans, sans-serif" font-size="4.9" font-weight="bold" stroke="#000" stroke-width="0.85" fill="#000">0HM</text>
<text transform="translate(773.8 311.9) scale(1 1)" font-family="Liberation Sans, sans-serif" font-size="3.4" font-weight="bold" stroke="#000" stroke-width="0.45" fill="#000">5%</text>
<text transform="translate(789 269) scale(1 1.12)" font-family="Liberation Mono, monospace" font-size="6.2" font-weight="bold" text-anchor="start" fill="#000" stroke="#000" stroke-width="0.34">VCCU6</text>
<text transform="translate(800.8 310.4) scale(1 1.12)" font-family="Liberation Mono, monospace" font-size="6" font-weight="bold" text-anchor="start" fill="#000" stroke="#000" stroke-width="0.34">C140</text>
<rect x="804.2" y="317.4" width="9.6" height="1.8" fill="#000"/>
<text transform="translate(811 318.1) scale(1 1)" font-family="Liberation Sans, sans-serif" font-size="3.4" font-weight="bold" stroke="#000" stroke-width="0.4" fill="#000">uF</text>
<path d="M804.9 320.8h5.6l1.4 1.2v4.7h-7z" fill="#000"/>
<rect x="806.8" y="322" width="0.9" height="1.7" fill="#fff"/>
<rect x="809.3" y="323.6" width="0.9" height="1.9" fill="#fff"/>
<rect x="806.9" y="325.2" width="1.0" height="0.9" fill="#fff"/>
<text transform="translate(791 350.4) scale(1 1.12)" font-family="Liberation Mono, monospace" font-size="6.2" font-weight="bold" text-anchor="start" fill="#000" stroke="#000" stroke-width="0.34">AGND</text>
<text transform="translate(682.4 281) scale(1 1.12)" font-family="Liberation Mono, monospace" font-size="6" font-weight="bold" text-anchor="start" fill="#000" stroke="#000" stroke-width="0.34">TP18</text>
<text transform="translate(708 292.4) scale(1 1.12)" font-family="Liberation Mono, monospace" font-size="6.2" font-weight="bold" text-anchor="start" fill="#000" stroke="#000" stroke-width="0.34">+12VA</text>
<text transform="translate(705.5 333.6) scale(1 1.12)" font-family="Liberation Mono, monospace" font-size="6" font-weight="bold" text-anchor="start" fill="#000" stroke="#000" stroke-width="0.34">R24</text>
<text transform="translate(705.5 337.3) scale(1 1)" font-family="Liberation Sans, sans-serif" font-size="3.4" font-weight="bold" stroke="#000" stroke-width="0.45" fill="#000">10</text>
<text transform="translate(705.5 342.2) scale(0.68 1)" font-family="Liberation Sans, sans-serif" font-size="5.4" font-weight="bold" stroke="#000" stroke-width="0.8" fill="#000">1/10W</text>
<text transform="translate(705.5 346) scale(1 1)" font-family="Liberation Sans, sans-serif" font-size="3.4" font-weight="bold" stroke="#000" stroke-width="0.45" fill="#000">5%</text>
<text transform="translate(726.5 365.3) scale(1 1.12)" font-family="Liberation Mono, monospace" font-size="6.2" font-weight="bold" text-anchor="start" fill="#000" stroke="#000" stroke-width="0.34">VCCU7</text>
<text transform="translate(730.8 383.2) scale(1 1.12)" font-family="Liberation Mono, monospace" font-size="6" font-weight="bold" text-anchor="start" fill="#000" stroke="#000" stroke-width="0.34">C8</text>
<text transform="translate(728.6 384) scale(1 1)" font-family="Liberation Mono, monospace" font-size="4.4" font-weight="bold" text-anchor="start" fill="#000" stroke="#000" stroke-width="0.34">+</text>
<rect x="730.7" y="385.4" width="9.6" height="1.8" fill="#000"/>
<text transform="translate(737.5 386.1) scale(1 1)" font-family="Liberation Sans, sans-serif" font-size="3.4" font-weight="bold" stroke="#000" stroke-width="0.4" fill="#000">uF</text>
<path d="M731.4 388.8h5.6l1.4 1.2v4.7h-7z" fill="#000"/>
<rect x="733.3" y="390" width="0.9" height="1.7" fill="#fff"/>
<rect x="735.8" y="391.6" width="0.9" height="1.9" fill="#fff"/>
<rect x="733.4" y="393.2" width="1.0" height="0.9" fill="#fff"/>
<text transform="translate(751.5 378.6) scale(1 1.12)" font-family="Liberation Mono, monospace" font-size="6" font-weight="bold" text-anchor="start" fill="#000" stroke="#000" stroke-width="0.34">C26</text>
<rect x="753" y="386.4" width="9.6" height="1.8" fill="#000"/>
<text transform="translate(759.8 387.1) scale(1 1)" font-family="Liberation Sans, sans-serif" font-size="3.4" font-weight="bold" stroke="#000" stroke-width="0.4" fill="#000">uF</text>
<path d="M753.7 389.8h5.6l1.4 1.2v4.7h-7z" fill="#000"/>
<rect x="755.6" y="391" width="0.9" height="1.7" fill="#fff"/>
<rect x="758.1" y="392.6" width="0.9" height="1.9" fill="#fff"/>
<rect x="755.7" y="394.2" width="1.0" height="0.9" fill="#fff"/>
<text transform="translate(716.5 421.6) scale(1 1.12)" font-family="Liberation Mono, monospace" font-size="6.2" font-weight="bold" text-anchor="start" fill="#000" stroke="#000" stroke-width="0.34">AGND</text>
<text transform="translate(31 623.8) scale(1 1.12)" font-family="Liberation Mono, monospace" font-size="6.4" font-weight="bold" text-anchor="start" fill="#000" stroke="#000" stroke-width="0.34">2</text>
<text transform="translate(47.5 623.2) scale(0.69 1.05)" font-family="Liberation Mono, monospace" font-size="5.6" font-weight="bold" text-anchor="start" fill="#000" stroke="#000" stroke-width="0.6">= COMPONENTS ARE NOT INSTALLED</text>
<text transform="translate(47.5 633) scale(0.66 1.05)" font-family="Liberation Mono, monospace" font-size="5.6" font-weight="bold" text-anchor="start" fill="#000" stroke="#000" stroke-width="0.6">= COMPONENTS HAVE DUAL FOOT PRINT</text>
<text transform="translate(10 639.8) scale(0.68 1.05)" font-family="Liberation Mono, monospace" font-size="5.6" font-weight="bold" text-anchor="start" fill="#000" stroke="#000" stroke-width="0.6">NOTES: UNLESS OTHERWISE SPECIFIED</text>
<text transform="translate(779 605.8) scale(1 1.1)" font-family="Liberation Mono, monospace" font-size="6" font-weight="bold" text-anchor="start" fill="#000" stroke="#000" stroke-width="0.34" letter-spacing="0.75">Honeywell</text>
<text transform="translate(752.8 620.2) scale(1 1.1)" font-family="Liberation Mono, monospace" font-size="6" font-weight="bold" text-anchor="start" fill="#000" stroke="#000" stroke-width="0.34">SCHEMATIC, PCB</text>
<text transform="translate(752.8 627.2) scale(1 1.1)" font-family="Liberation Mono, monospace" font-size="6" font-weight="bold" text-anchor="start" fill="#000" stroke="#000" stroke-width="0.34">DR4200B READER</text>
<text transform="translate(739 636.2) scale(1 1)" font-family="Liberation Mono, monospace" font-size="5.6" font-weight="bold" text-anchor="start" fill="#000" stroke="#000" stroke-width="0.34">D</text>
<text transform="translate(776.7 636.4) scale(1 1.05)" font-family="Liberation Mono, monospace" font-size="6" font-weight="bold" text-anchor="start" fill="#000" stroke="#000" stroke-width="0.34">6555858</text>
<text transform="translate(816 636.2) scale(1 1)" font-family="Liberation Mono, monospace" font-size="5.2" font-weight="bold" text-anchor="start" fill="#000" stroke="#000" stroke-width="0.34">02</text></g>
</svg>
</body></html>
